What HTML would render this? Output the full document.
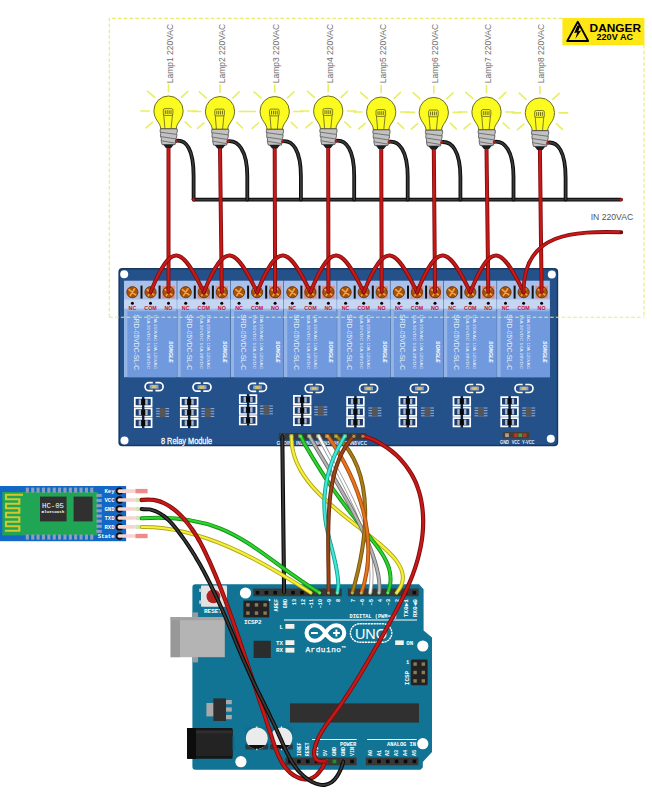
<!DOCTYPE html>
<html lang="en"><head><meta charset="utf-8"><title>8 Relay Bluetooth Wiring</title>
<style>html,body{margin:0;padding:0;background:#fff}body{width:652px;height:800px;overflow:hidden}svg{display:block}text{font-family:"Liberation Sans","DejaVu Sans",sans-serif}.m{font-family:"Liberation Mono","DejaVu Sans Mono",monospace;font-weight:bold;fill:#fff}</style></head><body>
<svg width="652" height="800" viewBox="0 0 652 800">
<rect width="652" height="800" fill="#fff"/>
<g id="dashbox" fill="none" stroke="#eaea72" stroke-width="1.1" stroke-dasharray="3.6 2.2">
<path d="M109.3 317.2 V18.4 H563"/>
<path d="M644 45 V317"/>
</g>
<g id="relayboard">
<rect x="118.4" y="268" width="439.8" height="178.2" rx="4" fill="#183861"/>
<rect x="119.9" y="269.5" width="436.8" height="175.2" rx="3" fill="#24518a"/>
<circle cx="124.2" cy="274.3" r="4" fill="#fff"/>
<circle cx="551.8" cy="274.6" r="4" fill="#fff"/>
<circle cx="124.5" cy="440.6" r="4" fill="#fff"/>
<circle cx="550.8" cy="438.8" r="4" fill="#fff"/>
<rect x="124.0" y="280.7" width="52.7" height="28.5" fill="#a9c1ea"/>
<rect x="124.0" y="299.5" width="52.7" height="9.7" fill="#c5d6f2"/>
<rect x="162.3" y="286" width="12.4" height="12.4" fill="#d98b86"/>
<rect x="140.5" y="285.6" width="2" height="13" fill="#111"/>
<rect x="158.6" y="285.6" width="2" height="13" fill="#111"/>
<circle cx="132.4" cy="292.2" r="5.6" fill="#a4520e" stroke="#6f3506" stroke-width="0.9"/>
<path d="M129.1 289.6 L135.7 294.8 M130.2 295.6 L134.6 288.8" stroke="#f5a43c" stroke-width="1.6" stroke-linecap="round"/>
<circle cx="132.4" cy="303.3" r="1.5" fill="#000"/>
<circle cx="150.5" cy="292.2" r="5.6" fill="#a4520e" stroke="#6f3506" stroke-width="0.9"/>
<path d="M147.2 289.6 L153.8 294.8 M148.3 295.6 L152.7 288.8" stroke="#f5a43c" stroke-width="1.6" stroke-linecap="round"/>
<circle cx="150.5" cy="303.3" r="1.5" fill="#000"/>
<circle cx="168.5" cy="292.2" r="5.6" fill="#a4520e" stroke="#6f3506" stroke-width="0.9"/>
<path d="M165.2 289.6 L171.8 294.8 M166.3 295.6 L170.7 288.8" stroke="#f5a43c" stroke-width="1.6" stroke-linecap="round"/>
<circle cx="168.5" cy="303.3" r="1.5" fill="#000"/>
<rect x="177.3" y="280.7" width="52.7" height="28.5" fill="#a9c1ea"/>
<rect x="177.3" y="299.5" width="52.7" height="9.7" fill="#c5d6f2"/>
<rect x="197.6" y="286" width="12.4" height="12.4" fill="#d98b86"/>
<rect x="215.6" y="286" width="12.4" height="12.4" fill="#d98b86"/>
<rect x="193.8" y="285.6" width="2" height="13" fill="#111"/>
<rect x="211.9" y="285.6" width="2" height="13" fill="#111"/>
<circle cx="185.7" cy="292.2" r="5.6" fill="#a4520e" stroke="#6f3506" stroke-width="0.9"/>
<path d="M182.4 289.6 L189.0 294.8 M183.5 295.6 L187.9 288.8" stroke="#f5a43c" stroke-width="1.6" stroke-linecap="round"/>
<circle cx="185.7" cy="303.3" r="1.5" fill="#000"/>
<circle cx="203.8" cy="292.2" r="5.6" fill="#a4520e" stroke="#6f3506" stroke-width="0.9"/>
<path d="M200.5 289.6 L207.1 294.8 M201.6 295.6 L206.0 288.8" stroke="#f5a43c" stroke-width="1.6" stroke-linecap="round"/>
<circle cx="203.8" cy="303.3" r="1.5" fill="#000"/>
<circle cx="221.8" cy="292.2" r="5.6" fill="#a4520e" stroke="#6f3506" stroke-width="0.9"/>
<path d="M218.5 289.6 L225.1 294.8 M219.6 295.6 L224.0 288.8" stroke="#f5a43c" stroke-width="1.6" stroke-linecap="round"/>
<circle cx="221.8" cy="303.3" r="1.5" fill="#000"/>
<rect x="230.6" y="280.7" width="52.7" height="28.5" fill="#a9c1ea"/>
<rect x="230.6" y="299.5" width="52.7" height="9.7" fill="#c5d6f2"/>
<rect x="268.9" y="286" width="12.4" height="12.4" fill="#d98b86"/>
<rect x="247.1" y="285.6" width="2" height="13" fill="#111"/>
<rect x="265.2" y="285.6" width="2" height="13" fill="#111"/>
<circle cx="239.0" cy="292.2" r="5.6" fill="#a4520e" stroke="#6f3506" stroke-width="0.9"/>
<path d="M235.7 289.6 L242.3 294.8 M236.8 295.6 L241.2 288.8" stroke="#f5a43c" stroke-width="1.6" stroke-linecap="round"/>
<circle cx="239.0" cy="303.3" r="1.5" fill="#000"/>
<circle cx="257.1" cy="292.2" r="5.6" fill="#a4520e" stroke="#6f3506" stroke-width="0.9"/>
<path d="M253.8 289.6 L260.4 294.8 M254.9 295.6 L259.3 288.8" stroke="#f5a43c" stroke-width="1.6" stroke-linecap="round"/>
<circle cx="257.1" cy="303.3" r="1.5" fill="#000"/>
<circle cx="275.1" cy="292.2" r="5.6" fill="#a4520e" stroke="#6f3506" stroke-width="0.9"/>
<path d="M271.8 289.6 L278.4 294.8 M272.9 295.6 L277.3 288.8" stroke="#f5a43c" stroke-width="1.6" stroke-linecap="round"/>
<circle cx="275.1" cy="303.3" r="1.5" fill="#000"/>
<rect x="283.9" y="280.7" width="52.7" height="28.5" fill="#a9c1ea"/>
<rect x="283.9" y="299.5" width="52.7" height="9.7" fill="#c5d6f2"/>
<rect x="304.2" y="286" width="12.4" height="12.4" fill="#d98b86"/>
<rect x="322.2" y="286" width="12.4" height="12.4" fill="#d98b86"/>
<rect x="300.4" y="285.6" width="2" height="13" fill="#111"/>
<rect x="318.5" y="285.6" width="2" height="13" fill="#111"/>
<circle cx="292.3" cy="292.2" r="5.6" fill="#a4520e" stroke="#6f3506" stroke-width="0.9"/>
<path d="M289.0 289.6 L295.6 294.8 M290.1 295.6 L294.5 288.8" stroke="#f5a43c" stroke-width="1.6" stroke-linecap="round"/>
<circle cx="292.3" cy="303.3" r="1.5" fill="#000"/>
<circle cx="310.4" cy="292.2" r="5.6" fill="#a4520e" stroke="#6f3506" stroke-width="0.9"/>
<path d="M307.1 289.6 L313.7 294.8 M308.2 295.6 L312.6 288.8" stroke="#f5a43c" stroke-width="1.6" stroke-linecap="round"/>
<circle cx="310.4" cy="303.3" r="1.5" fill="#000"/>
<circle cx="328.4" cy="292.2" r="5.6" fill="#a4520e" stroke="#6f3506" stroke-width="0.9"/>
<path d="M325.1 289.6 L331.7 294.8 M326.2 295.6 L330.6 288.8" stroke="#f5a43c" stroke-width="1.6" stroke-linecap="round"/>
<circle cx="328.4" cy="303.3" r="1.5" fill="#000"/>
<rect x="337.2" y="280.7" width="52.7" height="28.5" fill="#a9c1ea"/>
<rect x="337.2" y="299.5" width="52.7" height="9.7" fill="#c5d6f2"/>
<rect x="375.5" y="286" width="12.4" height="12.4" fill="#d98b86"/>
<rect x="353.7" y="285.6" width="2" height="13" fill="#111"/>
<rect x="371.8" y="285.6" width="2" height="13" fill="#111"/>
<circle cx="345.6" cy="292.2" r="5.6" fill="#a4520e" stroke="#6f3506" stroke-width="0.9"/>
<path d="M342.3 289.6 L348.9 294.8 M343.4 295.6 L347.8 288.8" stroke="#f5a43c" stroke-width="1.6" stroke-linecap="round"/>
<circle cx="345.6" cy="303.3" r="1.5" fill="#000"/>
<circle cx="363.7" cy="292.2" r="5.6" fill="#a4520e" stroke="#6f3506" stroke-width="0.9"/>
<path d="M360.4 289.6 L367.0 294.8 M361.5 295.6 L365.9 288.8" stroke="#f5a43c" stroke-width="1.6" stroke-linecap="round"/>
<circle cx="363.7" cy="303.3" r="1.5" fill="#000"/>
<circle cx="381.7" cy="292.2" r="5.6" fill="#a4520e" stroke="#6f3506" stroke-width="0.9"/>
<path d="M378.4 289.6 L385.0 294.8 M379.5 295.6 L383.9 288.8" stroke="#f5a43c" stroke-width="1.6" stroke-linecap="round"/>
<circle cx="381.7" cy="303.3" r="1.5" fill="#000"/>
<rect x="390.5" y="280.7" width="52.7" height="28.5" fill="#a9c1ea"/>
<rect x="390.5" y="299.5" width="52.7" height="9.7" fill="#c5d6f2"/>
<rect x="410.8" y="286" width="12.4" height="12.4" fill="#d98b86"/>
<rect x="428.8" y="286" width="12.4" height="12.4" fill="#d98b86"/>
<rect x="407.0" y="285.6" width="2" height="13" fill="#111"/>
<rect x="425.1" y="285.6" width="2" height="13" fill="#111"/>
<circle cx="398.9" cy="292.2" r="5.6" fill="#a4520e" stroke="#6f3506" stroke-width="0.9"/>
<path d="M395.6 289.6 L402.2 294.8 M396.7 295.6 L401.1 288.8" stroke="#f5a43c" stroke-width="1.6" stroke-linecap="round"/>
<circle cx="398.9" cy="303.3" r="1.5" fill="#000"/>
<circle cx="417.0" cy="292.2" r="5.6" fill="#a4520e" stroke="#6f3506" stroke-width="0.9"/>
<path d="M413.7 289.6 L420.3 294.8 M414.8 295.6 L419.2 288.8" stroke="#f5a43c" stroke-width="1.6" stroke-linecap="round"/>
<circle cx="417.0" cy="303.3" r="1.5" fill="#000"/>
<circle cx="435.0" cy="292.2" r="5.6" fill="#a4520e" stroke="#6f3506" stroke-width="0.9"/>
<path d="M431.7 289.6 L438.3 294.8 M432.8 295.6 L437.2 288.8" stroke="#f5a43c" stroke-width="1.6" stroke-linecap="round"/>
<circle cx="435.0" cy="303.3" r="1.5" fill="#000"/>
<rect x="443.8" y="280.7" width="52.7" height="28.5" fill="#a9c1ea"/>
<rect x="443.8" y="299.5" width="52.7" height="9.7" fill="#c5d6f2"/>
<rect x="482.1" y="286" width="12.4" height="12.4" fill="#d98b86"/>
<rect x="460.3" y="285.6" width="2" height="13" fill="#111"/>
<rect x="478.4" y="285.6" width="2" height="13" fill="#111"/>
<circle cx="452.2" cy="292.2" r="5.6" fill="#a4520e" stroke="#6f3506" stroke-width="0.9"/>
<path d="M448.9 289.6 L455.5 294.8 M450.0 295.6 L454.4 288.8" stroke="#f5a43c" stroke-width="1.6" stroke-linecap="round"/>
<circle cx="452.2" cy="303.3" r="1.5" fill="#000"/>
<circle cx="470.3" cy="292.2" r="5.6" fill="#a4520e" stroke="#6f3506" stroke-width="0.9"/>
<path d="M467.0 289.6 L473.6 294.8 M468.1 295.6 L472.5 288.8" stroke="#f5a43c" stroke-width="1.6" stroke-linecap="round"/>
<circle cx="470.3" cy="303.3" r="1.5" fill="#000"/>
<circle cx="488.3" cy="292.2" r="5.6" fill="#a4520e" stroke="#6f3506" stroke-width="0.9"/>
<path d="M485.0 289.6 L491.6 294.8 M486.1 295.6 L490.5 288.8" stroke="#f5a43c" stroke-width="1.6" stroke-linecap="round"/>
<circle cx="488.3" cy="303.3" r="1.5" fill="#000"/>
<rect x="497.1" y="280.7" width="52.7" height="28.5" fill="#a9c1ea"/>
<rect x="497.1" y="299.5" width="52.7" height="9.7" fill="#c5d6f2"/>
<rect x="535.4" y="286" width="12.4" height="12.4" fill="#d98b86"/>
<rect x="513.6" y="285.6" width="2" height="13" fill="#111"/>
<rect x="531.7" y="285.6" width="2" height="13" fill="#111"/>
<circle cx="505.5" cy="292.2" r="5.6" fill="#a4520e" stroke="#6f3506" stroke-width="0.9"/>
<path d="M502.2 289.6 L508.8 294.8 M503.3 295.6 L507.7 288.8" stroke="#f5a43c" stroke-width="1.6" stroke-linecap="round"/>
<circle cx="505.5" cy="303.3" r="1.5" fill="#000"/>
<circle cx="523.6" cy="292.2" r="5.6" fill="#a4520e" stroke="#6f3506" stroke-width="0.9"/>
<path d="M520.3 289.6 L526.9 294.8 M521.4 295.6 L525.8 288.8" stroke="#f5a43c" stroke-width="1.6" stroke-linecap="round"/>
<circle cx="523.6" cy="303.3" r="1.5" fill="#000"/>
<circle cx="541.6" cy="292.2" r="5.6" fill="#a4520e" stroke="#6f3506" stroke-width="0.9"/>
<path d="M538.3 289.6 L544.9 294.8 M539.4 295.6 L543.8 288.8" stroke="#f5a43c" stroke-width="1.6" stroke-linecap="round"/>
<circle cx="541.6" cy="303.3" r="1.5" fill="#000"/>
<rect x="124.0" y="308.6" width="52.7" height="68.6" fill="#9dbbec" opacity="0.93"/>
<rect x="127.4" y="311.2" width="49.3" height="66" fill="#6e99dc" opacity="0.95"/>
<text x="132.4" y="309.7" font-size="5.3" font-weight="bold" text-anchor="middle" fill="#c41236">NC</text>
<text x="150.5" y="309.7" font-size="5.3" font-weight="bold" text-anchor="middle" fill="#c41236">COM</text>
<text x="168.5" y="309.7" font-size="5.3" font-weight="bold" text-anchor="middle" fill="#c41236">NO</text>
<text transform="translate(133.9 314.2) rotate(90)" font-size="6.4" fill="#fff" fill-opacity="0.85" textLength="56" lengthAdjust="spacingAndGlyphs">SRD-05VDC-SL-C</text>
<text transform="translate(153.6 314.6) rotate(90)" font-size="4.3" fill="#fff" fill-opacity="0.9" textLength="54.5" lengthAdjust="spacingAndGlyphs">10A 250VAC 10A 125VAC</text>
<text transform="translate(146.6 314.6) rotate(90)" font-size="4.3" fill="#fff" fill-opacity="0.9" textLength="54.5" lengthAdjust="spacingAndGlyphs">10A 30VDC 10A 28VDC</text>
<text transform="translate(169.4 341) rotate(90)" font-size="5" font-weight="bold" font-style="italic" fill="#fff" textLength="21.6" lengthAdjust="spacingAndGlyphs">SONGLE</text>
<rect x="177.3" y="308.6" width="52.7" height="68.6" fill="#9dbbec" opacity="0.93"/>
<rect x="180.7" y="311.2" width="49.3" height="66" fill="#6e99dc" opacity="0.95"/>
<text x="185.7" y="309.7" font-size="5.3" font-weight="bold" text-anchor="middle" fill="#c41236">NC</text>
<text x="203.8" y="309.7" font-size="5.3" font-weight="bold" text-anchor="middle" fill="#c41236">COM</text>
<text x="221.8" y="309.7" font-size="5.3" font-weight="bold" text-anchor="middle" fill="#c41236">NO</text>
<text transform="translate(187.2 314.2) rotate(90)" font-size="6.4" fill="#fff" fill-opacity="0.85" textLength="56" lengthAdjust="spacingAndGlyphs">SRD-05VDC-SL-C</text>
<text transform="translate(206.9 314.6) rotate(90)" font-size="4.3" fill="#fff" fill-opacity="0.9" textLength="54.5" lengthAdjust="spacingAndGlyphs">10A 250VAC 10A 125VAC</text>
<text transform="translate(199.9 314.6) rotate(90)" font-size="4.3" fill="#fff" fill-opacity="0.9" textLength="54.5" lengthAdjust="spacingAndGlyphs">10A 30VDC 10A 28VDC</text>
<text transform="translate(222.7 341) rotate(90)" font-size="5" font-weight="bold" font-style="italic" fill="#fff" textLength="21.6" lengthAdjust="spacingAndGlyphs">SONGLE</text>
<rect x="230.6" y="308.6" width="52.7" height="68.6" fill="#9dbbec" opacity="0.93"/>
<rect x="234.0" y="311.2" width="49.3" height="66" fill="#6e99dc" opacity="0.95"/>
<text x="239.0" y="309.7" font-size="5.3" font-weight="bold" text-anchor="middle" fill="#c41236">NC</text>
<text x="257.1" y="309.7" font-size="5.3" font-weight="bold" text-anchor="middle" fill="#c41236">COM</text>
<text x="275.1" y="309.7" font-size="5.3" font-weight="bold" text-anchor="middle" fill="#c41236">NO</text>
<text transform="translate(240.5 314.2) rotate(90)" font-size="6.4" fill="#fff" fill-opacity="0.85" textLength="56" lengthAdjust="spacingAndGlyphs">SRD-05VDC-SL-C</text>
<text transform="translate(260.2 314.6) rotate(90)" font-size="4.3" fill="#fff" fill-opacity="0.9" textLength="54.5" lengthAdjust="spacingAndGlyphs">10A 250VAC 10A 125VAC</text>
<text transform="translate(253.2 314.6) rotate(90)" font-size="4.3" fill="#fff" fill-opacity="0.9" textLength="54.5" lengthAdjust="spacingAndGlyphs">10A 30VDC 10A 28VDC</text>
<text transform="translate(276.0 341) rotate(90)" font-size="5" font-weight="bold" font-style="italic" fill="#fff" textLength="21.6" lengthAdjust="spacingAndGlyphs">SONGLE</text>
<rect x="283.9" y="308.6" width="52.7" height="68.6" fill="#9dbbec" opacity="0.93"/>
<rect x="287.3" y="311.2" width="49.3" height="66" fill="#6e99dc" opacity="0.95"/>
<text x="292.3" y="309.7" font-size="5.3" font-weight="bold" text-anchor="middle" fill="#c41236">NC</text>
<text x="310.4" y="309.7" font-size="5.3" font-weight="bold" text-anchor="middle" fill="#c41236">COM</text>
<text x="328.4" y="309.7" font-size="5.3" font-weight="bold" text-anchor="middle" fill="#c41236">NO</text>
<text transform="translate(293.8 314.2) rotate(90)" font-size="6.4" fill="#fff" fill-opacity="0.85" textLength="56" lengthAdjust="spacingAndGlyphs">SRD-05VDC-SL-C</text>
<text transform="translate(313.5 314.6) rotate(90)" font-size="4.3" fill="#fff" fill-opacity="0.9" textLength="54.5" lengthAdjust="spacingAndGlyphs">10A 250VAC 10A 125VAC</text>
<text transform="translate(306.5 314.6) rotate(90)" font-size="4.3" fill="#fff" fill-opacity="0.9" textLength="54.5" lengthAdjust="spacingAndGlyphs">10A 30VDC 10A 28VDC</text>
<text transform="translate(329.3 341) rotate(90)" font-size="5" font-weight="bold" font-style="italic" fill="#fff" textLength="21.6" lengthAdjust="spacingAndGlyphs">SONGLE</text>
<rect x="337.2" y="308.6" width="52.7" height="68.6" fill="#9dbbec" opacity="0.93"/>
<rect x="340.6" y="311.2" width="49.3" height="66" fill="#6e99dc" opacity="0.95"/>
<text x="345.6" y="309.7" font-size="5.3" font-weight="bold" text-anchor="middle" fill="#c41236">NC</text>
<text x="363.7" y="309.7" font-size="5.3" font-weight="bold" text-anchor="middle" fill="#c41236">COM</text>
<text x="381.7" y="309.7" font-size="5.3" font-weight="bold" text-anchor="middle" fill="#c41236">NO</text>
<text transform="translate(347.1 314.2) rotate(90)" font-size="6.4" fill="#fff" fill-opacity="0.85" textLength="56" lengthAdjust="spacingAndGlyphs">SRD-05VDC-SL-C</text>
<text transform="translate(366.8 314.6) rotate(90)" font-size="4.3" fill="#fff" fill-opacity="0.9" textLength="54.5" lengthAdjust="spacingAndGlyphs">10A 250VAC 10A 125VAC</text>
<text transform="translate(359.8 314.6) rotate(90)" font-size="4.3" fill="#fff" fill-opacity="0.9" textLength="54.5" lengthAdjust="spacingAndGlyphs">10A 30VDC 10A 28VDC</text>
<text transform="translate(382.6 341) rotate(90)" font-size="5" font-weight="bold" font-style="italic" fill="#fff" textLength="21.6" lengthAdjust="spacingAndGlyphs">SONGLE</text>
<rect x="390.5" y="308.6" width="52.7" height="68.6" fill="#9dbbec" opacity="0.93"/>
<rect x="393.9" y="311.2" width="49.3" height="66" fill="#6e99dc" opacity="0.95"/>
<text x="398.9" y="309.7" font-size="5.3" font-weight="bold" text-anchor="middle" fill="#c41236">NC</text>
<text x="417.0" y="309.7" font-size="5.3" font-weight="bold" text-anchor="middle" fill="#c41236">COM</text>
<text x="435.0" y="309.7" font-size="5.3" font-weight="bold" text-anchor="middle" fill="#c41236">NO</text>
<text transform="translate(400.4 314.2) rotate(90)" font-size="6.4" fill="#fff" fill-opacity="0.85" textLength="56" lengthAdjust="spacingAndGlyphs">SRD-05VDC-SL-C</text>
<text transform="translate(420.1 314.6) rotate(90)" font-size="4.3" fill="#fff" fill-opacity="0.9" textLength="54.5" lengthAdjust="spacingAndGlyphs">10A 250VAC 10A 125VAC</text>
<text transform="translate(413.1 314.6) rotate(90)" font-size="4.3" fill="#fff" fill-opacity="0.9" textLength="54.5" lengthAdjust="spacingAndGlyphs">10A 30VDC 10A 28VDC</text>
<text transform="translate(435.9 341) rotate(90)" font-size="5" font-weight="bold" font-style="italic" fill="#fff" textLength="21.6" lengthAdjust="spacingAndGlyphs">SONGLE</text>
<rect x="443.8" y="308.6" width="52.7" height="68.6" fill="#9dbbec" opacity="0.93"/>
<rect x="447.2" y="311.2" width="49.3" height="66" fill="#6e99dc" opacity="0.95"/>
<text x="452.2" y="309.7" font-size="5.3" font-weight="bold" text-anchor="middle" fill="#c41236">NC</text>
<text x="470.3" y="309.7" font-size="5.3" font-weight="bold" text-anchor="middle" fill="#c41236">COM</text>
<text x="488.3" y="309.7" font-size="5.3" font-weight="bold" text-anchor="middle" fill="#c41236">NO</text>
<text transform="translate(453.7 314.2) rotate(90)" font-size="6.4" fill="#fff" fill-opacity="0.85" textLength="56" lengthAdjust="spacingAndGlyphs">SRD-05VDC-SL-C</text>
<text transform="translate(473.4 314.6) rotate(90)" font-size="4.3" fill="#fff" fill-opacity="0.9" textLength="54.5" lengthAdjust="spacingAndGlyphs">10A 250VAC 10A 125VAC</text>
<text transform="translate(466.4 314.6) rotate(90)" font-size="4.3" fill="#fff" fill-opacity="0.9" textLength="54.5" lengthAdjust="spacingAndGlyphs">10A 30VDC 10A 28VDC</text>
<text transform="translate(489.2 341) rotate(90)" font-size="5" font-weight="bold" font-style="italic" fill="#fff" textLength="21.6" lengthAdjust="spacingAndGlyphs">SONGLE</text>
<rect x="497.1" y="308.6" width="52.7" height="68.6" fill="#9dbbec" opacity="0.93"/>
<rect x="500.5" y="311.2" width="49.3" height="66" fill="#6e99dc" opacity="0.95"/>
<text x="505.5" y="309.7" font-size="5.3" font-weight="bold" text-anchor="middle" fill="#c41236">NC</text>
<text x="523.6" y="309.7" font-size="5.3" font-weight="bold" text-anchor="middle" fill="#c41236">COM</text>
<text x="541.6" y="309.7" font-size="5.3" font-weight="bold" text-anchor="middle" fill="#c41236">NO</text>
<text transform="translate(507.0 314.2) rotate(90)" font-size="6.4" fill="#fff" fill-opacity="0.85" textLength="56" lengthAdjust="spacingAndGlyphs">SRD-05VDC-SL-C</text>
<text transform="translate(526.7 314.6) rotate(90)" font-size="4.3" fill="#fff" fill-opacity="0.9" textLength="54.5" lengthAdjust="spacingAndGlyphs">10A 250VAC 10A 125VAC</text>
<text transform="translate(519.7 314.6) rotate(90)" font-size="4.3" fill="#fff" fill-opacity="0.9" textLength="54.5" lengthAdjust="spacingAndGlyphs">10A 30VDC 10A 28VDC</text>
<text transform="translate(542.5 341) rotate(90)" font-size="5" font-weight="bold" font-style="italic" fill="#fff" textLength="21.6" lengthAdjust="spacingAndGlyphs">SONGLE</text>
<rect x="149.7" y="384.8" width="8.8" height="3.8" fill="#93a2bc"/>
<rect x="151.8" y="385.1" width="4.6" height="3.2" fill="#d5c068"/>
<path d="M152.8 382.7 H149.1 A4 4 0 0 0 149.1 390.7 H152.8 M155.4 382.7 H159.1 A4 4 0 0 1 159.1 390.7 H155.4" fill="none" stroke="#fff" stroke-width="1.7"/>
<rect x="197.6" y="385.3" width="8.8" height="3.8" fill="#93a2bc"/>
<rect x="199.7" y="385.6" width="4.6" height="3.2" fill="#d5c068"/>
<path d="M200.7 383.2 H197.0 A4 4 0 0 0 197.0 391.2 H200.7 M203.3 383.2 H207.0 A4 4 0 0 1 207.0 391.2 H203.3" fill="none" stroke="#fff" stroke-width="1.7"/>
<rect x="253.1" y="385.5" width="8.8" height="3.8" fill="#93a2bc"/>
<rect x="255.2" y="385.8" width="4.6" height="3.2" fill="#d5c068"/>
<path d="M256.2 383.4 H252.5 A4 4 0 0 0 252.5 391.4 H256.2 M258.8 383.4 H262.5 A4 4 0 0 1 262.5 391.4 H258.8" fill="none" stroke="#fff" stroke-width="1.7"/>
<rect x="309.8" y="386.6" width="8.8" height="3.8" fill="#93a2bc"/>
<rect x="311.9" y="386.9" width="4.6" height="3.2" fill="#d5c068"/>
<path d="M312.9 384.5 H309.2 A4 4 0 0 0 309.2 392.5 H312.9 M315.5 384.5 H319.2 A4 4 0 0 1 319.2 392.5 H315.5" fill="none" stroke="#fff" stroke-width="1.7"/>
<rect x="364.2" y="386.6" width="8.8" height="3.8" fill="#93a2bc"/>
<rect x="366.3" y="386.9" width="4.6" height="3.2" fill="#d5c068"/>
<path d="M367.3 384.5 H363.6 A4 4 0 0 0 363.6 392.5 H367.3 M369.9 384.5 H373.6 A4 4 0 0 1 373.6 392.5 H369.9" fill="none" stroke="#fff" stroke-width="1.7"/>
<rect x="415.0" y="386.6" width="8.8" height="3.8" fill="#93a2bc"/>
<rect x="417.1" y="386.9" width="4.6" height="3.2" fill="#d5c068"/>
<path d="M418.1 384.5 H414.4 A4 4 0 0 0 414.4 392.5 H418.1 M420.7 384.5 H424.4 A4 4 0 0 1 424.4 392.5 H420.7" fill="none" stroke="#fff" stroke-width="1.7"/>
<rect x="470.2" y="386.6" width="8.8" height="3.8" fill="#93a2bc"/>
<rect x="472.3" y="386.9" width="4.6" height="3.2" fill="#d5c068"/>
<path d="M473.3 384.5 H469.6 A4 4 0 0 0 469.6 392.5 H473.3 M475.9 384.5 H479.6 A4 4 0 0 1 479.6 392.5 H475.9" fill="none" stroke="#fff" stroke-width="1.7"/>
<rect x="519.6" y="386.6" width="8.8" height="3.8" fill="#93a2bc"/>
<rect x="521.7" y="386.9" width="4.6" height="3.2" fill="#d5c068"/>
<path d="M522.7 384.5 H519.0 A4 4 0 0 0 519.0 392.5 H522.7 M525.3 384.5 H529.0 A4 4 0 0 1 529.0 392.5 H525.3" fill="none" stroke="#fff" stroke-width="1.7"/>
<rect x="142.1" y="397.0" width="2.3" height="31" fill="#0d1a30"/>
<rect x="135.7" y="398.7" width="15" height="6.6" fill="#1b3c6e"/>
<rect x="138.7" y="399.4" width="2.6" height="5.2" fill="#a9b6cc"/>
<rect x="145.1" y="399.4" width="2.6" height="5.2" fill="#a9b6cc"/>
<rect x="141.2" y="399.0" width="4" height="6" fill="#080808"/>
<path d="M141.9 397.9 H134.8 V406.1 H141.9 M144.5 397.9 H151.6 V406.1 H144.5" fill="none" stroke="#fff" stroke-width="1.7"/>
<rect x="135.7" y="409.2" width="15" height="6.6" fill="#1b3c6e"/>
<rect x="138.7" y="409.9" width="2.6" height="5.2" fill="#a9b6cc"/>
<rect x="145.1" y="409.9" width="2.6" height="5.2" fill="#a9b6cc"/>
<rect x="141.2" y="409.5" width="4" height="6" fill="#080808"/>
<path d="M141.9 408.4 H134.8 V416.6 H141.9 M144.5 408.4 H151.6 V416.6 H144.5" fill="none" stroke="#fff" stroke-width="1.7"/>
<rect x="135.7" y="419.7" width="15" height="6.6" fill="#1b3c6e"/>
<rect x="138.7" y="420.4" width="2.6" height="5.2" fill="#a9b6cc"/>
<rect x="145.1" y="420.4" width="2.6" height="5.2" fill="#a9b6cc"/>
<rect x="141.2" y="420.0" width="4" height="6" fill="#080808"/>
<path d="M141.9 418.9 H134.8 V427.1 H141.9 M144.5 418.9 H151.6 V427.1 H144.5" fill="none" stroke="#fff" stroke-width="1.7"/>
<rect x="188.1" y="397.0" width="2.3" height="31" fill="#0d1a30"/>
<rect x="181.7" y="398.7" width="15" height="6.6" fill="#1b3c6e"/>
<rect x="184.7" y="399.4" width="2.6" height="5.2" fill="#a9b6cc"/>
<rect x="191.1" y="399.4" width="2.6" height="5.2" fill="#a9b6cc"/>
<rect x="187.2" y="399.0" width="4" height="6" fill="#080808"/>
<path d="M187.9 397.9 H180.8 V406.1 H187.9 M190.5 397.9 H197.6 V406.1 H190.5" fill="none" stroke="#fff" stroke-width="1.7"/>
<rect x="181.7" y="409.2" width="15" height="6.6" fill="#1b3c6e"/>
<rect x="184.7" y="409.9" width="2.6" height="5.2" fill="#a9b6cc"/>
<rect x="191.1" y="409.9" width="2.6" height="5.2" fill="#a9b6cc"/>
<rect x="187.2" y="409.5" width="4" height="6" fill="#080808"/>
<path d="M187.9 408.4 H180.8 V416.6 H187.9 M190.5 408.4 H197.6 V416.6 H190.5" fill="none" stroke="#fff" stroke-width="1.7"/>
<rect x="181.7" y="419.7" width="15" height="6.6" fill="#1b3c6e"/>
<rect x="184.7" y="420.4" width="2.6" height="5.2" fill="#a9b6cc"/>
<rect x="191.1" y="420.4" width="2.6" height="5.2" fill="#a9b6cc"/>
<rect x="187.2" y="420.0" width="4" height="6" fill="#080808"/>
<path d="M187.9 418.9 H180.8 V427.1 H187.9 M190.5 418.9 H197.6 V427.1 H190.5" fill="none" stroke="#fff" stroke-width="1.7"/>
<rect x="247.0" y="394.4" width="2.3" height="31" fill="#0d1a30"/>
<rect x="240.6" y="396.1" width="15" height="6.6" fill="#1b3c6e"/>
<rect x="243.6" y="396.8" width="2.6" height="5.2" fill="#a9b6cc"/>
<rect x="250.0" y="396.8" width="2.6" height="5.2" fill="#a9b6cc"/>
<rect x="246.1" y="396.4" width="4" height="6" fill="#080808"/>
<path d="M246.8 395.2 H239.8 V403.5 H246.8 M249.4 395.2 H256.4 V403.5 H249.4" fill="none" stroke="#fff" stroke-width="1.7"/>
<rect x="240.6" y="406.6" width="15" height="6.6" fill="#1b3c6e"/>
<rect x="243.6" y="407.3" width="2.6" height="5.2" fill="#a9b6cc"/>
<rect x="250.0" y="407.3" width="2.6" height="5.2" fill="#a9b6cc"/>
<rect x="246.1" y="406.9" width="4" height="6" fill="#080808"/>
<path d="M246.8 405.8 H239.8 V414.0 H246.8 M249.4 405.8 H256.4 V414.0 H249.4" fill="none" stroke="#fff" stroke-width="1.7"/>
<rect x="240.6" y="417.1" width="15" height="6.6" fill="#1b3c6e"/>
<rect x="243.6" y="417.8" width="2.6" height="5.2" fill="#a9b6cc"/>
<rect x="250.0" y="417.8" width="2.6" height="5.2" fill="#a9b6cc"/>
<rect x="246.1" y="417.4" width="4" height="6" fill="#080808"/>
<path d="M246.8 416.2 H239.8 V424.5 H246.8 M249.4 416.2 H256.4 V424.5 H249.4" fill="none" stroke="#fff" stroke-width="1.7"/>
<rect x="301.1" y="395.0" width="2.3" height="31" fill="#0d1a30"/>
<rect x="294.7" y="396.7" width="15" height="6.6" fill="#1b3c6e"/>
<rect x="297.7" y="397.4" width="2.6" height="5.2" fill="#a9b6cc"/>
<rect x="304.1" y="397.4" width="2.6" height="5.2" fill="#a9b6cc"/>
<rect x="300.2" y="397.0" width="4" height="6" fill="#080808"/>
<path d="M300.9 395.9 H293.9 V404.1 H300.9 M303.5 395.9 H310.6 V404.1 H303.5" fill="none" stroke="#fff" stroke-width="1.7"/>
<rect x="294.7" y="407.2" width="15" height="6.6" fill="#1b3c6e"/>
<rect x="297.7" y="407.9" width="2.6" height="5.2" fill="#a9b6cc"/>
<rect x="304.1" y="407.9" width="2.6" height="5.2" fill="#a9b6cc"/>
<rect x="300.2" y="407.5" width="4" height="6" fill="#080808"/>
<path d="M300.9 406.4 H293.9 V414.6 H300.9 M303.5 406.4 H310.6 V414.6 H303.5" fill="none" stroke="#fff" stroke-width="1.7"/>
<rect x="294.7" y="417.7" width="15" height="6.6" fill="#1b3c6e"/>
<rect x="297.7" y="418.4" width="2.6" height="5.2" fill="#a9b6cc"/>
<rect x="304.1" y="418.4" width="2.6" height="5.2" fill="#a9b6cc"/>
<rect x="300.2" y="418.0" width="4" height="6" fill="#080808"/>
<path d="M300.9 416.9 H293.9 V425.1 H300.9 M303.5 416.9 H310.6 V425.1 H303.5" fill="none" stroke="#fff" stroke-width="1.7"/>
<rect x="354.2" y="396.3" width="2.3" height="31" fill="#0d1a30"/>
<rect x="347.9" y="398.0" width="15" height="6.6" fill="#1b3c6e"/>
<rect x="350.9" y="398.7" width="2.6" height="5.2" fill="#a9b6cc"/>
<rect x="357.3" y="398.7" width="2.6" height="5.2" fill="#a9b6cc"/>
<rect x="353.4" y="398.3" width="4" height="6" fill="#080808"/>
<path d="M354.1 397.2 H347.1 V405.4 H354.1 M356.7 397.2 H363.8 V405.4 H356.7" fill="none" stroke="#fff" stroke-width="1.7"/>
<rect x="347.9" y="408.5" width="15" height="6.6" fill="#1b3c6e"/>
<rect x="350.9" y="409.2" width="2.6" height="5.2" fill="#a9b6cc"/>
<rect x="357.3" y="409.2" width="2.6" height="5.2" fill="#a9b6cc"/>
<rect x="353.4" y="408.8" width="4" height="6" fill="#080808"/>
<path d="M354.1 407.7 H347.1 V415.9 H354.1 M356.7 407.7 H363.8 V415.9 H356.7" fill="none" stroke="#fff" stroke-width="1.7"/>
<rect x="347.9" y="419.0" width="15" height="6.6" fill="#1b3c6e"/>
<rect x="350.9" y="419.7" width="2.6" height="5.2" fill="#a9b6cc"/>
<rect x="357.3" y="419.7" width="2.6" height="5.2" fill="#a9b6cc"/>
<rect x="353.4" y="419.3" width="4" height="6" fill="#080808"/>
<path d="M354.1 418.2 H347.1 V426.4 H354.1 M356.7 418.2 H363.8 V426.4 H356.7" fill="none" stroke="#fff" stroke-width="1.7"/>
<rect x="406.7" y="396.3" width="2.3" height="31" fill="#0d1a30"/>
<rect x="400.3" y="398.0" width="15" height="6.6" fill="#1b3c6e"/>
<rect x="403.3" y="398.7" width="2.6" height="5.2" fill="#a9b6cc"/>
<rect x="409.7" y="398.7" width="2.6" height="5.2" fill="#a9b6cc"/>
<rect x="405.8" y="398.3" width="4" height="6" fill="#080808"/>
<path d="M406.5 397.2 H399.5 V405.4 H406.5 M409.1 397.2 H416.2 V405.4 H409.1" fill="none" stroke="#fff" stroke-width="1.7"/>
<rect x="400.3" y="408.5" width="15" height="6.6" fill="#1b3c6e"/>
<rect x="403.3" y="409.2" width="2.6" height="5.2" fill="#a9b6cc"/>
<rect x="409.7" y="409.2" width="2.6" height="5.2" fill="#a9b6cc"/>
<rect x="405.8" y="408.8" width="4" height="6" fill="#080808"/>
<path d="M406.5 407.7 H399.5 V415.9 H406.5 M409.1 407.7 H416.2 V415.9 H409.1" fill="none" stroke="#fff" stroke-width="1.7"/>
<rect x="400.3" y="419.0" width="15" height="6.6" fill="#1b3c6e"/>
<rect x="403.3" y="419.7" width="2.6" height="5.2" fill="#a9b6cc"/>
<rect x="409.7" y="419.7" width="2.6" height="5.2" fill="#a9b6cc"/>
<rect x="405.8" y="419.3" width="4" height="6" fill="#080808"/>
<path d="M406.5 418.2 H399.5 V426.4 H406.5 M409.1 418.2 H416.2 V426.4 H409.1" fill="none" stroke="#fff" stroke-width="1.7"/>
<rect x="460.7" y="396.3" width="2.3" height="31" fill="#0d1a30"/>
<rect x="454.3" y="398.0" width="15" height="6.6" fill="#1b3c6e"/>
<rect x="457.3" y="398.7" width="2.6" height="5.2" fill="#a9b6cc"/>
<rect x="463.7" y="398.7" width="2.6" height="5.2" fill="#a9b6cc"/>
<rect x="459.8" y="398.3" width="4" height="6" fill="#080808"/>
<path d="M460.5 397.2 H453.5 V405.4 H460.5 M463.1 397.2 H470.2 V405.4 H463.1" fill="none" stroke="#fff" stroke-width="1.7"/>
<rect x="454.3" y="408.5" width="15" height="6.6" fill="#1b3c6e"/>
<rect x="457.3" y="409.2" width="2.6" height="5.2" fill="#a9b6cc"/>
<rect x="463.7" y="409.2" width="2.6" height="5.2" fill="#a9b6cc"/>
<rect x="459.8" y="408.8" width="4" height="6" fill="#080808"/>
<path d="M460.5 407.7 H453.5 V415.9 H460.5 M463.1 407.7 H470.2 V415.9 H463.1" fill="none" stroke="#fff" stroke-width="1.7"/>
<rect x="454.3" y="419.0" width="15" height="6.6" fill="#1b3c6e"/>
<rect x="457.3" y="419.7" width="2.6" height="5.2" fill="#a9b6cc"/>
<rect x="463.7" y="419.7" width="2.6" height="5.2" fill="#a9b6cc"/>
<rect x="459.8" y="419.3" width="4" height="6" fill="#080808"/>
<path d="M460.5 418.2 H453.5 V426.4 H460.5 M463.1 418.2 H470.2 V426.4 H463.1" fill="none" stroke="#fff" stroke-width="1.7"/>
<rect x="508.4" y="396.3" width="2.3" height="31" fill="#0d1a30"/>
<rect x="502.1" y="398.0" width="15" height="6.6" fill="#1b3c6e"/>
<rect x="505.1" y="398.7" width="2.6" height="5.2" fill="#a9b6cc"/>
<rect x="511.5" y="398.7" width="2.6" height="5.2" fill="#a9b6cc"/>
<rect x="507.6" y="398.3" width="4" height="6" fill="#080808"/>
<path d="M508.3 397.2 H501.2 V405.4 H508.3 M510.9 397.2 H517.9 V405.4 H510.9" fill="none" stroke="#fff" stroke-width="1.7"/>
<rect x="502.1" y="408.5" width="15" height="6.6" fill="#1b3c6e"/>
<rect x="505.1" y="409.2" width="2.6" height="5.2" fill="#a9b6cc"/>
<rect x="511.5" y="409.2" width="2.6" height="5.2" fill="#a9b6cc"/>
<rect x="507.6" y="408.8" width="4" height="6" fill="#080808"/>
<path d="M508.3 407.7 H501.2 V415.9 H508.3 M510.9 407.7 H517.9 V415.9 H510.9" fill="none" stroke="#fff" stroke-width="1.7"/>
<rect x="502.1" y="419.0" width="15" height="6.6" fill="#1b3c6e"/>
<rect x="505.1" y="419.7" width="2.6" height="5.2" fill="#a9b6cc"/>
<rect x="511.5" y="419.7" width="2.6" height="5.2" fill="#a9b6cc"/>
<rect x="507.6" y="419.3" width="4" height="6" fill="#080808"/>
<path d="M508.3 418.2 H501.2 V426.4 H508.3 M510.9 418.2 H517.9 V426.4 H510.9" fill="none" stroke="#fff" stroke-width="1.7"/>
<rect x="156.1" y="408.1" width="13" height="1" fill="#9db2d4"/>
<rect x="156.1" y="410.7" width="13" height="1" fill="#9db2d4"/>
<rect x="156.1" y="413.3" width="13" height="1" fill="#9db2d4"/>
<rect x="156.1" y="415.9" width="13" height="1" fill="#9db2d4"/>
<rect x="159.7" y="407.8" width="5.8" height="9.2" fill="#565658"/>
<rect x="201.3" y="408.1" width="13" height="1" fill="#9db2d4"/>
<rect x="201.3" y="410.7" width="13" height="1" fill="#9db2d4"/>
<rect x="201.3" y="413.3" width="13" height="1" fill="#9db2d4"/>
<rect x="201.3" y="415.9" width="13" height="1" fill="#9db2d4"/>
<rect x="204.9" y="407.8" width="5.8" height="9.2" fill="#565658"/>
<rect x="259.9" y="405.5" width="13" height="1" fill="#9db2d4"/>
<rect x="259.9" y="408.1" width="13" height="1" fill="#9db2d4"/>
<rect x="259.9" y="410.7" width="13" height="1" fill="#9db2d4"/>
<rect x="259.9" y="413.3" width="13" height="1" fill="#9db2d4"/>
<rect x="263.5" y="405.2" width="5.8" height="9.2" fill="#565658"/>
<rect x="314.3" y="406.5" width="13" height="1" fill="#9db2d4"/>
<rect x="314.3" y="409.1" width="13" height="1" fill="#9db2d4"/>
<rect x="314.3" y="411.7" width="13" height="1" fill="#9db2d4"/>
<rect x="314.3" y="414.3" width="13" height="1" fill="#9db2d4"/>
<rect x="317.9" y="406.2" width="5.8" height="9.2" fill="#565658"/>
<rect x="368.4" y="407.5" width="13" height="1" fill="#9db2d4"/>
<rect x="368.4" y="410.1" width="13" height="1" fill="#9db2d4"/>
<rect x="368.4" y="412.7" width="13" height="1" fill="#9db2d4"/>
<rect x="368.4" y="415.3" width="13" height="1" fill="#9db2d4"/>
<rect x="372.0" y="407.2" width="5.8" height="9.2" fill="#565658"/>
<rect x="421.0" y="407.5" width="13" height="1" fill="#9db2d4"/>
<rect x="421.0" y="410.1" width="13" height="1" fill="#9db2d4"/>
<rect x="421.0" y="412.7" width="13" height="1" fill="#9db2d4"/>
<rect x="421.0" y="415.3" width="13" height="1" fill="#9db2d4"/>
<rect x="424.6" y="407.2" width="5.8" height="9.2" fill="#565658"/>
<rect x="474.5" y="407.5" width="13" height="1" fill="#9db2d4"/>
<rect x="474.5" y="410.1" width="13" height="1" fill="#9db2d4"/>
<rect x="474.5" y="412.7" width="13" height="1" fill="#9db2d4"/>
<rect x="474.5" y="415.3" width="13" height="1" fill="#9db2d4"/>
<rect x="478.1" y="407.2" width="5.8" height="9.2" fill="#565658"/>
<rect x="522.2" y="407.5" width="13" height="1" fill="#9db2d4"/>
<rect x="522.2" y="410.1" width="13" height="1" fill="#9db2d4"/>
<rect x="522.2" y="412.7" width="13" height="1" fill="#9db2d4"/>
<rect x="522.2" y="415.3" width="13" height="1" fill="#9db2d4"/>
<rect x="525.8" y="407.2" width="5.8" height="9.2" fill="#565658"/>
<text x="160.9" y="443.9" font-size="8.5" fill="#fff" stroke="#fff" stroke-width="0.3" fill-opacity="0.95" textLength="51.3" lengthAdjust="spacingAndGlyphs">8 Relay Module</text>
<rect x="278.9" y="433" width="87.5" height="6.6" fill="#383838"/>
<rect x="280.4" y="434.1" width="3.8" height="3.8" fill="#8c8663"/>
<text x="281.7" y="444.6" font-size="4.7" font-weight="bold" text-anchor="middle" fill="#fff" fill-opacity="0.92">GND</text>
<rect x="289.4" y="434.1" width="3.8" height="3.8" fill="#8c8663"/>
<text x="290.6" y="444.6" font-size="4.7" font-weight="bold" text-anchor="middle" fill="#fff" fill-opacity="0.92">IN1</text>
<rect x="298.3" y="434.1" width="3.8" height="3.8" fill="#8c8663"/>
<text x="299.6" y="444.6" font-size="4.7" font-weight="bold" text-anchor="middle" fill="#fff" fill-opacity="0.92">IN2</text>
<rect x="307.3" y="434.1" width="3.8" height="3.8" fill="#8c8663"/>
<text x="308.6" y="444.6" font-size="4.7" font-weight="bold" text-anchor="middle" fill="#fff" fill-opacity="0.92">IN3</text>
<rect x="316.2" y="434.1" width="3.8" height="3.8" fill="#8c8663"/>
<text x="317.5" y="444.6" font-size="4.7" font-weight="bold" text-anchor="middle" fill="#fff" fill-opacity="0.92">IN4</text>
<rect x="325.2" y="434.1" width="3.8" height="3.8" fill="#8c8663"/>
<text x="326.4" y="444.6" font-size="4.7" font-weight="bold" text-anchor="middle" fill="#fff" fill-opacity="0.92">IN5</text>
<rect x="334.1" y="434.1" width="3.8" height="3.8" fill="#8c8663"/>
<text x="335.4" y="444.6" font-size="4.7" font-weight="bold" text-anchor="middle" fill="#fff" fill-opacity="0.92">IN6</text>
<rect x="343.1" y="434.1" width="3.8" height="3.8" fill="#8c8663"/>
<text x="344.3" y="444.6" font-size="4.7" font-weight="bold" text-anchor="middle" fill="#fff" fill-opacity="0.92">IN7</text>
<rect x="352.0" y="434.1" width="3.8" height="3.8" fill="#8c8663"/>
<text x="353.3" y="444.6" font-size="4.7" font-weight="bold" text-anchor="middle" fill="#fff" fill-opacity="0.92">IN8</text>
<rect x="361.0" y="434.1" width="3.8" height="3.8" fill="#8c8663"/>
<text x="362.2" y="444.6" font-size="4.7" font-weight="bold" text-anchor="middle" fill="#fff" fill-opacity="0.92">VCC</text>
<rect x="502.8" y="432" width="26.4" height="6.4" fill="#453e38"/><rect x="518.4" y="433.4" width="3.6" height="3.6" fill="#4c9a3a"/>
<rect x="505.1" y="433.3" width="3.8" height="3.8" fill="#a8a090"/>
<rect x="513.9" y="433.3" width="3.8" height="3.8" fill="#b23a28"/>
<rect x="522.7" y="433.3" width="3.8" height="3.8" fill="#b23a28"/>
<text x="504.5" y="444" font-size="4.6" textLength="9" lengthAdjust="spacingAndGlyphs" font-weight="bold" text-anchor="middle" fill="#fff" fill-opacity="0.92">GND</text>
<text x="515.8" y="444" font-size="4.6" textLength="8" lengthAdjust="spacingAndGlyphs" font-weight="bold" text-anchor="middle" fill="#fff" fill-opacity="0.92">VCC</text>
<text x="528.3" y="444" font-size="4.6" textLength="12.4" lengthAdjust="spacingAndGlyphs" font-weight="bold" text-anchor="middle" fill="#fff" fill-opacity="0.92">Y-VCC</text>
</g>
<path d="M109.3 317.2 H644" fill="none" stroke="#eaea72" stroke-width="1.1" stroke-dasharray="3.6 2.2"/>
<g id="lamps">
<text transform="translate(173.0 83.2) rotate(-90)" font-size="9" fill="#707070" textLength="59.3" lengthAdjust="spacingAndGlyphs">Lamp1 220VAC</text>
<path transform="translate(0 0)" d="M168.5 84.6 L168.5 91.7 M147.8 91.3 L154.7 97.4 M187.8 91.4 L181.4 97.4 M140.9 111.0 L149.2 111.0 M187.8 111.0 L196.3 111.0 M146.0 127.8 L152.4 122.3 M185.1 121.8 L191.0 127.5" stroke="#e8ef62" stroke-width="1.6" fill="none" stroke-linecap="round"/>
<text transform="translate(224.5 83.2) rotate(-90)" font-size="9" fill="#707070" textLength="59.3" lengthAdjust="spacingAndGlyphs">Lamp2 220VAC</text>
<path transform="translate(0 0.5)" d="M220.0 84.6 L220.0 91.7 M199.3 91.3 L206.2 97.4 M239.3 91.4 L232.9 97.4 M192.4 111.0 L200.7 111.0 M239.3 111.0 L247.8 111.0 M197.5 127.8 L203.9 122.3 M236.6 121.8 L242.5 127.5" stroke="#e8ef62" stroke-width="1.6" fill="none" stroke-linecap="round"/>
<text transform="translate(279.2 83.2) rotate(-90)" font-size="9" fill="#707070" textLength="59.3" lengthAdjust="spacingAndGlyphs">Lamp3 220VAC</text>
<path transform="translate(0 0.5)" d="M274.7 84.6 L274.7 91.7 M254.0 91.3 L260.9 97.4 M294.0 91.4 L287.6 97.4 M247.1 111.0 L255.4 111.0 M294.0 111.0 L302.5 111.0 M252.2 127.8 L258.6 122.3 M291.3 121.8 L297.2 127.5" stroke="#e8ef62" stroke-width="1.6" fill="none" stroke-linecap="round"/>
<text transform="translate(332.7 83.2) rotate(-90)" font-size="9" fill="#707070" textLength="59.3" lengthAdjust="spacingAndGlyphs">Lamp4 220VAC</text>
<path transform="translate(0 0)" d="M328.2 84.6 L328.2 91.7 M307.5 91.3 L314.4 97.4 M347.5 91.4 L341.1 97.4 M300.6 111.0 L308.9 111.0 M347.5 111.0 L356.0 111.0 M305.7 127.8 L312.1 122.3 M344.8 121.8 L350.7 127.5" stroke="#e8ef62" stroke-width="1.6" fill="none" stroke-linecap="round"/>
<text transform="translate(385.7 83.2) rotate(-90)" font-size="9" fill="#707070" textLength="59.3" lengthAdjust="spacingAndGlyphs">Lamp5 220VAC</text>
<path transform="translate(0 1.0)" d="M381.2 84.6 L381.2 91.7 M360.5 91.3 L367.4 97.4 M400.5 91.4 L394.1 97.4 M353.6 111.0 L361.9 111.0 M400.5 111.0 L409.0 111.0 M358.7 127.8 L365.1 122.3 M397.8 121.8 L403.7 127.5" stroke="#e8ef62" stroke-width="1.6" fill="none" stroke-linecap="round"/>
<text transform="translate(438.3 83.2) rotate(-90)" font-size="9" fill="#707070" textLength="59.3" lengthAdjust="spacingAndGlyphs">Lamp6 220VAC</text>
<path transform="translate(0 1.4)" d="M433.8 84.6 L433.8 91.7 M413.1 91.3 L420.0 97.4 M453.1 91.4 L446.7 97.4 M406.2 111.0 L414.5 111.0 M453.1 111.0 L461.6 111.0 M411.3 127.8 L417.7 122.3 M450.4 121.8 L456.3 127.5" stroke="#e8ef62" stroke-width="1.6" fill="none" stroke-linecap="round"/>
<text transform="translate(491.0 83.2) rotate(-90)" font-size="9" fill="#707070" textLength="59.3" lengthAdjust="spacingAndGlyphs">Lamp7 220VAC</text>
<path transform="translate(0 1.0)" d="M486.5 84.6 L486.5 91.7 M465.8 91.3 L472.7 97.4 M505.8 91.4 L499.4 97.4 M458.9 111.0 L467.2 111.0 M505.8 111.0 L514.3 111.0 M464.0 127.8 L470.4 122.3 M503.1 121.8 L509.0 127.5" stroke="#e8ef62" stroke-width="1.6" fill="none" stroke-linecap="round"/>
<text transform="translate(544.4 83.2) rotate(-90)" font-size="9" fill="#707070" textLength="59.3" lengthAdjust="spacingAndGlyphs">Lamp8 220VAC</text>
<path transform="translate(0 1.9)" d="M539.9 84.6 L539.9 91.7 M519.2 91.3 L526.1 97.4 M559.2 91.4 L552.8 97.4 M512.3 111.0 L520.6 111.0 M559.2 111.0 L567.7 111.0 M517.4 127.8 L523.8 122.3 M556.5 121.8 L562.4 127.5" stroke="#e8ef62" stroke-width="1.6" fill="none" stroke-linecap="round"/>
</g>
<g id="acwires">
<path d="M193.6 199.6 H621" fill="none" stroke="#0a0a0a" stroke-width="3.8" stroke-linecap="round"/>
<path d="M193.6 199.6 H621" fill="none" stroke="#3a3a3a" stroke-width="1.8" stroke-linecap="round"/>
<path d="M175.6 140.8 C186.6 139.0 193.6 150.0 193.6 176.0 V199.6" fill="none" stroke="#0a0a0a" stroke-width="3.8" stroke-linecap="round"/>
<path d="M175.6 140.8 C186.6 139.0 193.6 150.0 193.6 176.0 V199.6" fill="none" stroke="#3a3a3a" stroke-width="1.8" stroke-linecap="round"/>
<path d="M227.1 141.3 C238.1 139.5 247.3 150.5 247.3 176.5 V199.6" fill="none" stroke="#0a0a0a" stroke-width="3.8" stroke-linecap="round"/>
<path d="M227.1 141.3 C238.1 139.5 247.3 150.5 247.3 176.5 V199.6" fill="none" stroke="#3a3a3a" stroke-width="1.8" stroke-linecap="round"/>
<path d="M281.8 141.3 C292.8 139.5 300.9 150.5 300.9 176.5 V199.6" fill="none" stroke="#0a0a0a" stroke-width="3.8" stroke-linecap="round"/>
<path d="M281.8 141.3 C292.8 139.5 300.9 150.5 300.9 176.5 V199.6" fill="none" stroke="#3a3a3a" stroke-width="1.8" stroke-linecap="round"/>
<path d="M335.3 140.8 C346.3 139.0 354.2 150.0 354.2 176.0 V199.6" fill="none" stroke="#0a0a0a" stroke-width="3.8" stroke-linecap="round"/>
<path d="M335.3 140.8 C346.3 139.0 354.2 150.0 354.2 176.0 V199.6" fill="none" stroke="#3a3a3a" stroke-width="1.8" stroke-linecap="round"/>
<path d="M388.3 141.8 C399.3 140.0 407.7 151.0 407.7 177.0 V199.6" fill="none" stroke="#0a0a0a" stroke-width="3.8" stroke-linecap="round"/>
<path d="M388.3 141.8 C399.3 140.0 407.7 151.0 407.7 177.0 V199.6" fill="none" stroke="#3a3a3a" stroke-width="1.8" stroke-linecap="round"/>
<path d="M440.9 142.2 C451.9 140.4 460.4 151.4 460.4 177.4 V199.6" fill="none" stroke="#0a0a0a" stroke-width="3.8" stroke-linecap="round"/>
<path d="M440.9 142.2 C451.9 140.4 460.4 151.4 460.4 177.4 V199.6" fill="none" stroke="#3a3a3a" stroke-width="1.8" stroke-linecap="round"/>
<path d="M493.6 141.8 C504.6 140.0 513.5 151.0 513.5 177.0 V199.6" fill="none" stroke="#0a0a0a" stroke-width="3.8" stroke-linecap="round"/>
<path d="M493.6 141.8 C504.6 140.0 513.5 151.0 513.5 177.0 V199.6" fill="none" stroke="#3a3a3a" stroke-width="1.8" stroke-linecap="round"/>
<path d="M547.0 142.7 C558.0 140.9 565.6 151.9 565.6 177.9 V199.6" fill="none" stroke="#0a0a0a" stroke-width="3.8" stroke-linecap="round"/>
<path d="M547.0 142.7 C558.0 140.9 565.6 151.9 565.6 177.9 V199.6" fill="none" stroke="#3a3a3a" stroke-width="1.8" stroke-linecap="round"/>
<path d="M168.5 147.0 L168.5 292" fill="none" stroke="#820c0c" stroke-width="4.0" stroke-linecap="round"/>
<path d="M168.5 147.0 L168.5 292" fill="none" stroke="#c81919" stroke-width="2.3" stroke-linecap="round"/>
<path d="M220.0 147.5 L221.8 292" fill="none" stroke="#820c0c" stroke-width="4.0" stroke-linecap="round"/>
<path d="M220.0 147.5 L221.8 292" fill="none" stroke="#c81919" stroke-width="2.3" stroke-linecap="round"/>
<path d="M274.7 147.5 L275.1 292" fill="none" stroke="#820c0c" stroke-width="4.0" stroke-linecap="round"/>
<path d="M274.7 147.5 L275.1 292" fill="none" stroke="#c81919" stroke-width="2.3" stroke-linecap="round"/>
<path d="M328.2 147.0 L328.4 292" fill="none" stroke="#820c0c" stroke-width="4.0" stroke-linecap="round"/>
<path d="M328.2 147.0 L328.4 292" fill="none" stroke="#c81919" stroke-width="2.3" stroke-linecap="round"/>
<path d="M381.2 148.0 L381.7 292" fill="none" stroke="#820c0c" stroke-width="4.0" stroke-linecap="round"/>
<path d="M381.2 148.0 L381.7 292" fill="none" stroke="#c81919" stroke-width="2.3" stroke-linecap="round"/>
<path d="M433.8 148.4 L435.0 292" fill="none" stroke="#820c0c" stroke-width="4.0" stroke-linecap="round"/>
<path d="M433.8 148.4 L435.0 292" fill="none" stroke="#c81919" stroke-width="2.3" stroke-linecap="round"/>
<path d="M486.5 148.0 L488.3 292" fill="none" stroke="#820c0c" stroke-width="4.0" stroke-linecap="round"/>
<path d="M486.5 148.0 L488.3 292" fill="none" stroke="#c81919" stroke-width="2.3" stroke-linecap="round"/>
<path d="M539.9 148.9 L541.6 292" fill="none" stroke="#820c0c" stroke-width="4.0" stroke-linecap="round"/>
<path d="M539.9 148.9 L541.6 292" fill="none" stroke="#c81919" stroke-width="2.3" stroke-linecap="round"/>
<path d="M150.5 292.4 C171.4 240.4 181.7 245.9 203.8 292.4" fill="none" stroke="#820c0c" stroke-width="3.9" stroke-linecap="round"/>
<path d="M150.5 292.4 C171.4 240.4 181.7 245.9 203.8 292.4" fill="none" stroke="#c81919" stroke-width="2.2" stroke-linecap="round"/>
<path d="M203.8 292.4 C224.7 240.4 235.0 245.9 257.1 292.4" fill="none" stroke="#820c0c" stroke-width="3.9" stroke-linecap="round"/>
<path d="M203.8 292.4 C224.7 240.4 235.0 245.9 257.1 292.4" fill="none" stroke="#c81919" stroke-width="2.2" stroke-linecap="round"/>
<path d="M257.1 292.4 C278.0 240.4 288.3 245.9 310.4 292.4" fill="none" stroke="#820c0c" stroke-width="3.9" stroke-linecap="round"/>
<path d="M257.1 292.4 C278.0 240.4 288.3 245.9 310.4 292.4" fill="none" stroke="#c81919" stroke-width="2.2" stroke-linecap="round"/>
<path d="M310.4 292.4 C331.3 240.4 341.6 245.9 363.7 292.4" fill="none" stroke="#820c0c" stroke-width="3.9" stroke-linecap="round"/>
<path d="M310.4 292.4 C331.3 240.4 341.6 245.9 363.7 292.4" fill="none" stroke="#c81919" stroke-width="2.2" stroke-linecap="round"/>
<path d="M363.7 292.4 C384.6 240.4 394.9 245.9 417.0 292.4" fill="none" stroke="#820c0c" stroke-width="3.9" stroke-linecap="round"/>
<path d="M363.7 292.4 C384.6 240.4 394.9 245.9 417.0 292.4" fill="none" stroke="#c81919" stroke-width="2.2" stroke-linecap="round"/>
<path d="M417.0 292.4 C437.9 240.4 448.2 245.9 470.3 292.4" fill="none" stroke="#820c0c" stroke-width="3.9" stroke-linecap="round"/>
<path d="M417.0 292.4 C437.9 240.4 448.2 245.9 470.3 292.4" fill="none" stroke="#c81919" stroke-width="2.2" stroke-linecap="round"/>
<path d="M470.3 292.4 C491.2 240.4 501.5 245.9 523.6 292.4" fill="none" stroke="#820c0c" stroke-width="3.9" stroke-linecap="round"/>
<path d="M470.3 292.4 C491.2 240.4 501.5 245.9 523.6 292.4" fill="none" stroke="#c81919" stroke-width="2.2" stroke-linecap="round"/>
<path d="M621.2 232.2 C575.7 231.1 522.9 231.5 523.6 292.4" fill="none" stroke="#820c0c" stroke-width="3.9" stroke-linecap="round"/>
<path d="M621.2 232.2 C575.7 231.1 522.9 231.5 523.6 292.4" fill="none" stroke="#c81919" stroke-width="2.2" stroke-linecap="round"/>
<circle cx="193.6" cy="199.6" r="1.6" fill="#b01818"/>
<circle cx="621.3" cy="199.6" r="1.7" fill="#b01818"/>
<circle cx="621.3" cy="232.4" r="1.7" fill="#7a0c0c"/>
<text x="590.7" y="220" font-size="9" fill="#555" textLength="42.5" lengthAdjust="spacingAndGlyphs">IN 220VAC</text>
</g>
<g id="bulbs">
<g transform="translate(0 0)">
<path d="M160.7 128.8 C160.7 122.5 153.9 120 153.9 110.6 A14.6 14.6 0 1 1 183.1 110.6 C183.1 120 176.3 122.5 176.3 128.8 Z" fill="#fbfb20" stroke="#5f5c14" stroke-width="0.9"/>
<path d="M164.9 128.6 L163.7 114 M171.1 128.6 L172.5 114" stroke="#4e4a1c" stroke-width="0.7" fill="none"/>
<rect x="163.3" y="108.6" width="9.6" height="6.8" rx="1.6" fill="#fbfb20" stroke="#4e4a1c" stroke-width="0.7"/>
<path d="M165.3 110.2 v3.8 M167.2 110.2 v3.8 M169.1 110.2 v3.8 M171.0 110.2 v3.8" stroke="#4e4a1c" stroke-width="0.8" fill="none"/>
<path d="M160.5 128.8 L177.1 128.8 Q177.9 131 176.7 133.4 Q177.3 136 176.1 138.4 Q176.5 141 175.1 144.6 L162.1 144.6 Q160.7 141 161.3 138.4 Q159.9 136 160.7 133.4 Q159.5 131 160.5 128.8 Z" fill="#c2c2c2" stroke="#4a4a4a" stroke-width="0.8"/>
<path d="M160.5 132.2 L176.7 134.4 M160.9 136.6 L176.3 139 M161.5 140.8 L175.5 143.2" stroke="#6a6a6a" stroke-width="0.9" fill="none"/>
<path d="M163.1 144.6 L173.9 144.6 L171.1 148 L165.9 148 Z" fill="#1e1e1e"/>
<circle cx="176.3" cy="141" r="1.5" fill="#a51c1c"/>
</g>
<g transform="translate(0 0.5)">
<path d="M212.2 128.8 C212.2 122.5 205.4 120 205.4 110.6 A14.6 14.6 0 1 1 234.6 110.6 C234.6 120 227.8 122.5 227.8 128.8 Z" fill="#fbfb20" stroke="#5f5c14" stroke-width="0.9"/>
<path d="M216.4 128.6 L215.2 114 M222.6 128.6 L224.0 114" stroke="#4e4a1c" stroke-width="0.7" fill="none"/>
<rect x="214.8" y="108.6" width="9.6" height="6.8" rx="1.6" fill="#fbfb20" stroke="#4e4a1c" stroke-width="0.7"/>
<path d="M216.8 110.2 v3.8 M218.7 110.2 v3.8 M220.6 110.2 v3.8 M222.5 110.2 v3.8" stroke="#4e4a1c" stroke-width="0.8" fill="none"/>
<path d="M212.0 128.8 L228.6 128.8 Q229.4 131 228.2 133.4 Q228.8 136 227.6 138.4 Q228.0 141 226.6 144.6 L213.6 144.6 Q212.2 141 212.8 138.4 Q211.4 136 212.2 133.4 Q211.0 131 212.0 128.8 Z" fill="#c2c2c2" stroke="#4a4a4a" stroke-width="0.8"/>
<path d="M212.0 132.2 L228.2 134.4 M212.4 136.6 L227.8 139 M213.0 140.8 L227.0 143.2" stroke="#6a6a6a" stroke-width="0.9" fill="none"/>
<path d="M214.6 144.6 L225.4 144.6 L222.6 148 L217.4 148 Z" fill="#1e1e1e"/>
<circle cx="227.8" cy="141" r="1.5" fill="#a51c1c"/>
</g>
<g transform="translate(0 0.5)">
<path d="M266.9 128.8 C266.9 122.5 260.1 120 260.1 110.6 A14.6 14.6 0 1 1 289.3 110.6 C289.3 120 282.5 122.5 282.5 128.8 Z" fill="#fbfb20" stroke="#5f5c14" stroke-width="0.9"/>
<path d="M271.1 128.6 L269.9 114 M277.3 128.6 L278.7 114" stroke="#4e4a1c" stroke-width="0.7" fill="none"/>
<rect x="269.5" y="108.6" width="9.6" height="6.8" rx="1.6" fill="#fbfb20" stroke="#4e4a1c" stroke-width="0.7"/>
<path d="M271.5 110.2 v3.8 M273.4 110.2 v3.8 M275.3 110.2 v3.8 M277.2 110.2 v3.8" stroke="#4e4a1c" stroke-width="0.8" fill="none"/>
<path d="M266.7 128.8 L283.3 128.8 Q284.1 131 282.9 133.4 Q283.5 136 282.3 138.4 Q282.7 141 281.3 144.6 L268.3 144.6 Q266.9 141 267.5 138.4 Q266.1 136 266.9 133.4 Q265.7 131 266.7 128.8 Z" fill="#c2c2c2" stroke="#4a4a4a" stroke-width="0.8"/>
<path d="M266.7 132.2 L282.9 134.4 M267.1 136.6 L282.5 139 M267.7 140.8 L281.7 143.2" stroke="#6a6a6a" stroke-width="0.9" fill="none"/>
<path d="M269.3 144.6 L280.1 144.6 L277.3 148 L272.1 148 Z" fill="#1e1e1e"/>
<circle cx="282.5" cy="141" r="1.5" fill="#a51c1c"/>
</g>
<g transform="translate(0 0)">
<path d="M320.4 128.8 C320.4 122.5 313.6 120 313.6 110.6 A14.6 14.6 0 1 1 342.8 110.6 C342.8 120 336.0 122.5 336.0 128.8 Z" fill="#fbfb20" stroke="#5f5c14" stroke-width="0.9"/>
<path d="M324.6 128.6 L323.4 114 M330.8 128.6 L332.2 114" stroke="#4e4a1c" stroke-width="0.7" fill="none"/>
<rect x="323.0" y="108.6" width="9.6" height="6.8" rx="1.6" fill="#fbfb20" stroke="#4e4a1c" stroke-width="0.7"/>
<path d="M325.0 110.2 v3.8 M326.9 110.2 v3.8 M328.8 110.2 v3.8 M330.7 110.2 v3.8" stroke="#4e4a1c" stroke-width="0.8" fill="none"/>
<path d="M320.2 128.8 L336.8 128.8 Q337.6 131 336.4 133.4 Q337.0 136 335.8 138.4 Q336.2 141 334.8 144.6 L321.8 144.6 Q320.4 141 321.0 138.4 Q319.6 136 320.4 133.4 Q319.2 131 320.2 128.8 Z" fill="#c2c2c2" stroke="#4a4a4a" stroke-width="0.8"/>
<path d="M320.2 132.2 L336.4 134.4 M320.6 136.6 L336.0 139 M321.2 140.8 L335.2 143.2" stroke="#6a6a6a" stroke-width="0.9" fill="none"/>
<path d="M322.8 144.6 L333.6 144.6 L330.8 148 L325.6 148 Z" fill="#1e1e1e"/>
<circle cx="336.0" cy="141" r="1.5" fill="#a51c1c"/>
</g>
<g transform="translate(0 1.0)">
<path d="M373.4 128.8 C373.4 122.5 366.6 120 366.6 110.6 A14.6 14.6 0 1 1 395.8 110.6 C395.8 120 389.0 122.5 389.0 128.8 Z" fill="#fbfb20" stroke="#5f5c14" stroke-width="0.9"/>
<path d="M377.6 128.6 L376.4 114 M383.8 128.6 L385.2 114" stroke="#4e4a1c" stroke-width="0.7" fill="none"/>
<rect x="376.0" y="108.6" width="9.6" height="6.8" rx="1.6" fill="#fbfb20" stroke="#4e4a1c" stroke-width="0.7"/>
<path d="M378.0 110.2 v3.8 M379.9 110.2 v3.8 M381.8 110.2 v3.8 M383.7 110.2 v3.8" stroke="#4e4a1c" stroke-width="0.8" fill="none"/>
<path d="M373.2 128.8 L389.8 128.8 Q390.6 131 389.4 133.4 Q390.0 136 388.8 138.4 Q389.2 141 387.8 144.6 L374.8 144.6 Q373.4 141 374.0 138.4 Q372.6 136 373.4 133.4 Q372.2 131 373.2 128.8 Z" fill="#c2c2c2" stroke="#4a4a4a" stroke-width="0.8"/>
<path d="M373.2 132.2 L389.4 134.4 M373.6 136.6 L389.0 139 M374.2 140.8 L388.2 143.2" stroke="#6a6a6a" stroke-width="0.9" fill="none"/>
<path d="M375.8 144.6 L386.6 144.6 L383.8 148 L378.6 148 Z" fill="#1e1e1e"/>
<circle cx="389.0" cy="141" r="1.5" fill="#a51c1c"/>
</g>
<g transform="translate(0 1.4)">
<path d="M426.0 128.8 C426.0 122.5 419.2 120 419.2 110.6 A14.6 14.6 0 1 1 448.4 110.6 C448.4 120 441.6 122.5 441.6 128.8 Z" fill="#fbfb20" stroke="#5f5c14" stroke-width="0.9"/>
<path d="M430.2 128.6 L429.0 114 M436.4 128.6 L437.8 114" stroke="#4e4a1c" stroke-width="0.7" fill="none"/>
<rect x="428.6" y="108.6" width="9.6" height="6.8" rx="1.6" fill="#fbfb20" stroke="#4e4a1c" stroke-width="0.7"/>
<path d="M430.6 110.2 v3.8 M432.5 110.2 v3.8 M434.4 110.2 v3.8 M436.3 110.2 v3.8" stroke="#4e4a1c" stroke-width="0.8" fill="none"/>
<path d="M425.8 128.8 L442.4 128.8 Q443.2 131 442.0 133.4 Q442.6 136 441.4 138.4 Q441.8 141 440.4 144.6 L427.4 144.6 Q426.0 141 426.6 138.4 Q425.2 136 426.0 133.4 Q424.8 131 425.8 128.8 Z" fill="#c2c2c2" stroke="#4a4a4a" stroke-width="0.8"/>
<path d="M425.8 132.2 L442.0 134.4 M426.2 136.6 L441.6 139 M426.8 140.8 L440.8 143.2" stroke="#6a6a6a" stroke-width="0.9" fill="none"/>
<path d="M428.4 144.6 L439.2 144.6 L436.4 148 L431.2 148 Z" fill="#1e1e1e"/>
<circle cx="441.6" cy="141" r="1.5" fill="#a51c1c"/>
</g>
<g transform="translate(0 1.0)">
<path d="M478.7 128.8 C478.7 122.5 471.9 120 471.9 110.6 A14.6 14.6 0 1 1 501.1 110.6 C501.1 120 494.3 122.5 494.3 128.8 Z" fill="#fbfb20" stroke="#5f5c14" stroke-width="0.9"/>
<path d="M482.9 128.6 L481.7 114 M489.1 128.6 L490.5 114" stroke="#4e4a1c" stroke-width="0.7" fill="none"/>
<rect x="481.3" y="108.6" width="9.6" height="6.8" rx="1.6" fill="#fbfb20" stroke="#4e4a1c" stroke-width="0.7"/>
<path d="M483.3 110.2 v3.8 M485.2 110.2 v3.8 M487.1 110.2 v3.8 M489.0 110.2 v3.8" stroke="#4e4a1c" stroke-width="0.8" fill="none"/>
<path d="M478.5 128.8 L495.1 128.8 Q495.9 131 494.7 133.4 Q495.3 136 494.1 138.4 Q494.5 141 493.1 144.6 L480.1 144.6 Q478.7 141 479.3 138.4 Q477.9 136 478.7 133.4 Q477.5 131 478.5 128.8 Z" fill="#c2c2c2" stroke="#4a4a4a" stroke-width="0.8"/>
<path d="M478.5 132.2 L494.7 134.4 M478.9 136.6 L494.3 139 M479.5 140.8 L493.5 143.2" stroke="#6a6a6a" stroke-width="0.9" fill="none"/>
<path d="M481.1 144.6 L491.9 144.6 L489.1 148 L483.9 148 Z" fill="#1e1e1e"/>
<circle cx="494.3" cy="141" r="1.5" fill="#a51c1c"/>
</g>
<g transform="translate(0 1.9)">
<path d="M532.1 128.8 C532.1 122.5 525.3 120 525.3 110.6 A14.6 14.6 0 1 1 554.5 110.6 C554.5 120 547.7 122.5 547.7 128.8 Z" fill="#fbfb20" stroke="#5f5c14" stroke-width="0.9"/>
<path d="M536.3 128.6 L535.1 114 M542.5 128.6 L543.9 114" stroke="#4e4a1c" stroke-width="0.7" fill="none"/>
<rect x="534.7" y="108.6" width="9.6" height="6.8" rx="1.6" fill="#fbfb20" stroke="#4e4a1c" stroke-width="0.7"/>
<path d="M536.7 110.2 v3.8 M538.6 110.2 v3.8 M540.5 110.2 v3.8 M542.4 110.2 v3.8" stroke="#4e4a1c" stroke-width="0.8" fill="none"/>
<path d="M531.9 128.8 L548.5 128.8 Q549.3 131 548.1 133.4 Q548.7 136 547.5 138.4 Q547.9 141 546.5 144.6 L533.5 144.6 Q532.1 141 532.7 138.4 Q531.3 136 532.1 133.4 Q530.9 131 531.9 128.8 Z" fill="#c2c2c2" stroke="#4a4a4a" stroke-width="0.8"/>
<path d="M531.9 132.2 L548.1 134.4 M532.3 136.6 L547.7 139 M532.9 140.8 L546.9 143.2" stroke="#6a6a6a" stroke-width="0.9" fill="none"/>
<path d="M534.5 144.6 L545.3 144.6 L542.5 148 L537.3 148 Z" fill="#1e1e1e"/>
<circle cx="547.7" cy="141" r="1.5" fill="#a51c1c"/>
</g>
</g>
<g id="danger">
<rect x="562.4" y="18" width="82" height="27.2" fill="#ffe715"/>
<path d="M577.8 21.8 L588.2 41 L567.2 41 Z" fill="#ffe715" stroke="#000" stroke-width="1.8" stroke-linejoin="round"/>
<path d="M577.4 25.6 L574.2 33 L577.2 32.4 L575.4 38.8 L581.2 30.6 L578.2 31.2 L580.6 25.6 Z" fill="#000"/>
<text x="589.6" y="32" font-size="11.6" font-weight="bold" fill="#000" textLength="51.4" lengthAdjust="spacingAndGlyphs">DANGER</text>
<text x="596.5" y="40.2" font-size="9" font-weight="bold" fill="#000" textLength="36.5" lengthAdjust="spacingAndGlyphs">220V AC</text>
</g>
<g id="hc05">
<rect x="0" y="486" width="126.1" height="55.2" fill="#1268c4"/>
<rect x="2.3" y="492" width="95.4" height="43.4" fill="#1fa553"/>
<path d="M23 494.7 H6 V499.2 H19.3 V503.7 H6 V508.2 H19.3 V512.7 H6 V517.2 H19.3 V521.7 H6 V526.2 H19.3 V530.7 H5" fill="none" stroke="#d3c92f" stroke-width="2.1"/>
<rect x="25.8" y="487.6" width="3.1" height="5.1" fill="#8c9dc0"/>
<rect x="25.8" y="534.5" width="3.1" height="5.1" fill="#8c9dc0"/>
<rect x="31.2" y="487.6" width="3.1" height="5.1" fill="#8c9dc0"/>
<rect x="31.2" y="534.5" width="3.1" height="5.1" fill="#8c9dc0"/>
<rect x="36.5" y="487.6" width="3.1" height="5.1" fill="#8c9dc0"/>
<rect x="36.5" y="534.5" width="3.1" height="5.1" fill="#8c9dc0"/>
<rect x="41.9" y="487.6" width="3.1" height="5.1" fill="#8c9dc0"/>
<rect x="41.9" y="534.5" width="3.1" height="5.1" fill="#8c9dc0"/>
<rect x="47.3" y="487.6" width="3.1" height="5.1" fill="#8c9dc0"/>
<rect x="47.3" y="534.5" width="3.1" height="5.1" fill="#8c9dc0"/>
<rect x="52.7" y="487.6" width="3.1" height="5.1" fill="#8c9dc0"/>
<rect x="52.7" y="534.5" width="3.1" height="5.1" fill="#8c9dc0"/>
<rect x="58.0" y="487.6" width="3.1" height="5.1" fill="#8c9dc0"/>
<rect x="58.0" y="534.5" width="3.1" height="5.1" fill="#8c9dc0"/>
<rect x="63.4" y="487.6" width="3.1" height="5.1" fill="#8c9dc0"/>
<rect x="63.4" y="534.5" width="3.1" height="5.1" fill="#8c9dc0"/>
<rect x="68.8" y="487.6" width="3.1" height="5.1" fill="#8c9dc0"/>
<rect x="68.8" y="534.5" width="3.1" height="5.1" fill="#8c9dc0"/>
<rect x="74.1" y="487.6" width="3.1" height="5.1" fill="#8c9dc0"/>
<rect x="74.1" y="534.5" width="3.1" height="5.1" fill="#8c9dc0"/>
<rect x="79.5" y="487.6" width="3.1" height="5.1" fill="#8c9dc0"/>
<rect x="79.5" y="534.5" width="3.1" height="5.1" fill="#8c9dc0"/>
<rect x="84.9" y="487.6" width="3.1" height="5.1" fill="#8c9dc0"/>
<rect x="84.9" y="534.5" width="3.1" height="5.1" fill="#8c9dc0"/>
<rect x="90.2" y="487.6" width="3.1" height="5.1" fill="#8c9dc0"/>
<rect x="90.2" y="534.5" width="3.1" height="5.1" fill="#8c9dc0"/>
<rect x="96.4" y="493.9" width="5.4" height="3" fill="#8c9dc0"/>
<rect x="96.4" y="499.0" width="5.4" height="3" fill="#8c9dc0"/>
<rect x="96.4" y="504.2" width="5.4" height="3" fill="#8c9dc0"/>
<rect x="96.4" y="509.3" width="5.4" height="3" fill="#8c9dc0"/>
<rect x="96.4" y="514.5" width="5.4" height="3" fill="#8c9dc0"/>
<rect x="96.4" y="519.6" width="5.4" height="3" fill="#8c9dc0"/>
<rect x="96.4" y="524.8" width="5.4" height="3" fill="#8c9dc0"/>
<rect x="96.4" y="529.9" width="5.4" height="3" fill="#8c9dc0"/>
<rect x="40" y="496.6" width="26.6" height="24.8" fill="#303030"/>
<rect x="73.6" y="496.6" width="19" height="24.8" fill="#303030"/>
<text class="m" x="42" y="507.7" font-size="6.6" style="font-weight:normal" textLength="22" lengthAdjust="spacingAndGlyphs">HC-05</text>
<text class="m" x="41.6" y="513.1" font-size="3.4" textLength="22.6" lengthAdjust="spacingAndGlyphs">Bluetooth</text>
<text class="m" x="114.6" y="493.1" font-size="5.6" text-anchor="end">Key</text>
<circle cx="119.5" cy="491.1" r="3.7" fill="#0c0c0c"/>
<rect x="117.6" y="489.3" width="18" height="3.6" rx="1.6" fill="#f8d4d0"/>
<text class="m" x="114.6" y="502.0" font-size="5.6" text-anchor="end">VCC</text>
<circle cx="119.5" cy="500.0" r="3.7" fill="#0c0c0c"/>
<rect x="117.6" y="498.2" width="18" height="3.6" rx="1.6" fill="#f8d4d0"/>
<text class="m" x="114.6" y="511.0" font-size="5.6" text-anchor="end">GND</text>
<circle cx="119.5" cy="509.0" r="3.7" fill="#0c0c0c"/>
<rect x="117.6" y="507.2" width="18" height="3.6" rx="1.6" fill="#f8d4d0"/>
<text class="m" x="114.6" y="520.0" font-size="5.6" text-anchor="end">TXD</text>
<circle cx="119.5" cy="518.0" r="3.7" fill="#0c0c0c"/>
<rect x="117.6" y="516.2" width="18" height="3.6" rx="1.6" fill="#f8d4d0"/>
<text class="m" x="114.6" y="528.9" font-size="5.6" text-anchor="end">RXD</text>
<circle cx="119.5" cy="526.9" r="3.7" fill="#0c0c0c"/>
<rect x="117.6" y="525.1" width="18" height="3.6" rx="1.6" fill="#f8d4d0"/>
<text class="m" x="114.6" y="538.0" font-size="5.6" text-anchor="end">State</text>
<circle cx="119.5" cy="536.0" r="3.7" fill="#0c0c0c"/>
<rect x="117.6" y="534.2" width="18" height="3.6" rx="1.6" fill="#f8d4d0"/>
<rect x="135.4" y="488.9" width="12.2" height="4.4" fill="#f08a88"/>
<rect x="135.4" y="533.8" width="12.2" height="4.4" fill="#f08a88"/>
<rect x="135.4" y="497.9" width="5" height="4.2" fill="#cfe8b0"/>
<rect x="135.4" y="506.9" width="5" height="4.2" fill="#cfe8b0"/>
<rect x="135.4" y="515.9" width="5" height="4.2" fill="#cfe8b0"/>
<rect x="135.4" y="524.8" width="5" height="4.2" fill="#cfe8b0"/>
</g>
<g id="arduino">
<path d="M196 584.2 H419 L423.6 589.2 V630.6 L432 637.6 V752 L422.8 762 V767.6 L420.4 769.7 H195.4 Q192.4 769.7 192.4 766.7 V587.2 Q192.4 584.2 195.4 584.2 Z" fill="#117494"/>
<circle cx="245.5" cy="593" r="5.6" fill="#fff"/>
<circle cx="422.8" cy="646" r="5.6" fill="#fff"/>
<circle cx="422.8" cy="743.7" r="5.6" fill="#fff"/>
<circle cx="240.9" cy="761.7" r="5.6" fill="#fff"/>
<rect x="201" y="585.6" width="26" height="21.2" rx="1" fill="#e3e3e3"/>
<rect x="199.2" y="588.6" width="2.4" height="3.4" fill="#d0d0d0"/><rect x="199.2" y="600.4" width="2.4" height="3.4" fill="#d0d0d0"/>
<circle cx="213.4" cy="596.4" r="6.9" fill="#ae2320"/>
<text class="m" x="204" y="613.4" font-size="5.6" textLength="18" lengthAdjust="spacingAndGlyphs">RESET</text>
<rect x="243.4" y="600.6" width="25.8" height="16.8" fill="#222"/>
<rect x="246.2" y="603.2" width="3.4" height="3.4" fill="#8d7a5b"/>
<rect x="254.8" y="603.2" width="3.4" height="3.4" fill="#8d7a5b"/>
<rect x="263.4" y="603.2" width="3.4" height="3.4" fill="#8d7a5b"/>
<rect x="246.2" y="611.4" width="3.4" height="3.4" fill="#8d7a5b"/>
<rect x="254.8" y="611.4" width="3.4" height="3.4" fill="#8d7a5b"/>
<rect x="263.4" y="611.4" width="3.4" height="3.4" fill="#8d7a5b"/>
<text class="m" x="243.9" y="624" font-size="5.6" textLength="17.8" lengthAdjust="spacingAndGlyphs">ICSP2</text>
<circle cx="269.6" cy="600" r="0.9" fill="#fff"/>
<rect x="253.2" y="588.5" width="88.6" height="7.8" fill="#383838"/>
<rect x="347.8" y="588.5" width="70.9" height="7.8" fill="#383838"/>
<rect x="255.7" y="590.9" width="3.6" height="3.6" fill="#0a0a0a"/>
<rect x="264.6" y="590.9" width="3.6" height="3.6" fill="#0a0a0a"/>
<rect x="273.4" y="590.9" width="3.6" height="3.6" fill="#0a0a0a"/>
<rect x="282.3" y="590.9" width="3.6" height="3.6" fill="#0a0a0a"/>
<rect x="291.2" y="590.9" width="3.6" height="3.6" fill="#0a0a0a"/>
<rect x="300.1" y="590.9" width="3.6" height="3.6" fill="#0a0a0a"/>
<rect x="308.9" y="590.9" width="3.6" height="3.6" fill="#0a0a0a"/>
<rect x="317.8" y="590.9" width="3.6" height="3.6" fill="#0a0a0a"/>
<rect x="326.7" y="590.9" width="3.6" height="3.6" fill="#0a0a0a"/>
<rect x="335.5" y="590.9" width="3.6" height="3.6" fill="#0a0a0a"/>
<rect x="350.5" y="590.9" width="3.6" height="3.6" fill="#0a0a0a"/>
<rect x="359.4" y="590.9" width="3.6" height="3.6" fill="#0a0a0a"/>
<rect x="368.2" y="590.9" width="3.6" height="3.6" fill="#0a0a0a"/>
<rect x="377.1" y="590.9" width="3.6" height="3.6" fill="#0a0a0a"/>
<rect x="386.0" y="590.9" width="3.6" height="3.6" fill="#0a0a0a"/>
<rect x="394.8" y="590.9" width="3.6" height="3.6" fill="#0a0a0a"/>
<rect x="403.7" y="590.9" width="3.6" height="3.6" fill="#0a0a0a"/>
<rect x="412.6" y="590.9" width="3.6" height="3.6" fill="#0a0a0a"/>
<text class="m" transform="translate(277.8 599) rotate(-90)" font-size="5.5" text-anchor="end" textLength="12.4" lengthAdjust="spacingAndGlyphs">AREF</text>
<text class="m" transform="translate(286.7 599) rotate(-90)" font-size="5.5" text-anchor="end" textLength="9.3" lengthAdjust="spacingAndGlyphs">GND</text>
<text class="m" transform="translate(295.6 599) rotate(-90)" font-size="5.5" text-anchor="end" textLength="6.2" lengthAdjust="spacingAndGlyphs">13</text>
<text class="m" transform="translate(304.5 599) rotate(-90)" font-size="5.5" text-anchor="end" textLength="6.2" lengthAdjust="spacingAndGlyphs">12</text>
<text class="m" transform="translate(313.3 599) rotate(-90)" font-size="5.5" text-anchor="end" textLength="9.3" lengthAdjust="spacingAndGlyphs">~11</text>
<text class="m" transform="translate(322.2 599) rotate(-90)" font-size="5.5" text-anchor="end" textLength="9.3" lengthAdjust="spacingAndGlyphs">~10</text>
<text class="m" transform="translate(331.1 599) rotate(-90)" font-size="5.5" text-anchor="end" textLength="6.2" lengthAdjust="spacingAndGlyphs">~9</text>
<text class="m" transform="translate(339.9 599) rotate(-90)" font-size="5.5" text-anchor="end" textLength="3.1" lengthAdjust="spacingAndGlyphs">8</text>
<text class="m" transform="translate(354.9 599) rotate(-90)" font-size="5.5" text-anchor="end">7</text>
<text class="m" transform="translate(363.8 599) rotate(-90)" font-size="5.5" text-anchor="end">~6</text>
<text class="m" transform="translate(372.6 599) rotate(-90)" font-size="5.5" text-anchor="end">~5</text>
<text class="m" transform="translate(381.5 599) rotate(-90)" font-size="5.5" text-anchor="end">4</text>
<text class="m" transform="translate(390.4 599) rotate(-90)" font-size="5.5" text-anchor="end">~3</text>
<text class="m" transform="translate(399.2 599) rotate(-90)" font-size="5.5" text-anchor="end">2</text>
<text class="m" transform="translate(408.1 599) rotate(-90)" font-size="6.1" text-anchor="end">TX0&#9654;1</text>
<text class="m" transform="translate(417.0 599) rotate(-90)" font-size="6.1" text-anchor="end">RX0&#9664;0</text>
<path d="M284 620 H417" stroke="#fff" stroke-width="1" fill="none"/>
<text class="m" x="349.5" y="618" font-size="5.4" textLength="47.4" lengthAdjust="spacingAndGlyphs">DIGITAL (PWM=~)</text>
<rect x="285.4" y="624.0" width="9" height="4.8" fill="#f2f2ea"/>
<text class="m" x="283" y="628.5" font-size="5.8" text-anchor="end">L</text>
<rect x="285.4" y="640.2" width="9" height="4.8" fill="#f2f2ea"/>
<text class="m" x="283" y="644.7" font-size="5.8" text-anchor="end">TX</text>
<rect x="285.4" y="647.8" width="9" height="4.8" fill="#f2f2ea"/>
<text class="m" x="283" y="652.3" font-size="5.8" text-anchor="end">RX</text>
<rect x="395.2" y="640.4" width="8.6" height="4.6" fill="#f2f2ea"/>
<text class="m" x="406.2" y="644.8" font-size="5.8">ON</text>
<rect x="253.6" y="640.8" width="17.2" height="17.2" fill="#2c2c2c"/>
<g fill="none" stroke="#fff">
<path d="M325.4 633 C321.4 626.4 318 625.2 314.4 625.2 A7.8 7.8 0 1 0 314.4 640.8 C318 640.8 321.4 639.6 325.4 633 C329.4 626.4 332.8 625.2 336.4 625.2 A7.8 7.8 0 1 1 336.4 640.8 C332.8 640.8 329.4 639.6 325.4 633 Z" stroke-width="4.1"/>
<path d="M311 633 h6.8 M333 633 h6.8 M336.4 629.6 v6.8" stroke-width="1.9"/>
<rect x="350.4" y="623.8" width="41.4" height="18.4" rx="9.2" stroke-width="1.4" stroke-dasharray="2.2 0.6"/>
</g>
<text x="370.9" y="639" font-size="15" text-anchor="middle" fill="#fff" textLength="32" lengthAdjust="spacingAndGlyphs">UNO</text>
<text class="m" x="305.4" y="652" font-size="7.8" style="font-weight:normal" stroke="#fff" stroke-width="0.25" textLength="35.6" lengthAdjust="spacing">Arduino</text>
<text class="m" x="341.4" y="648.2" font-size="3.6" textLength="4.2" lengthAdjust="spacingAndGlyphs">TM</text>
<rect x="410.8" y="659.6" width="16.8" height="25.6" rx="1.5" fill="#222"/>
<rect x="413.4" y="662.4" width="3.4" height="3.4" fill="#8d7a5b"/>
<rect x="421.6" y="662.4" width="3.4" height="3.4" fill="#8d7a5b"/>
<rect x="413.4" y="670.8" width="3.4" height="3.4" fill="#8d7a5b"/>
<rect x="421.6" y="670.8" width="3.4" height="3.4" fill="#8d7a5b"/>
<rect x="413.4" y="679.2" width="3.4" height="3.4" fill="#8d7a5b"/>
<rect x="421.6" y="679.2" width="3.4" height="3.4" fill="#8d7a5b"/>
<text class="m" x="406" y="664.4" font-size="5.4">1</text>
<text class="m" transform="translate(409.3 685.2) rotate(-90)" font-size="5.4" textLength="14.4" lengthAdjust="spacingAndGlyphs">ICSP</text>
<rect x="192.6" y="612.4" width="5.4" height="50" fill="#9b9b9b"/>
<rect x="170.6" y="617.2" width="54.2" height="40" fill="#b4b4b4"/>
<rect x="170.6" y="617.2" width="9.4" height="40" fill="#989898"/>
<rect x="170.6" y="617.2" width="54.2" height="3" fill="#a2a2a2"/>
<rect x="206.4" y="703" width="7.4" height="13.4" fill="#a9a9a9"/>
<rect x="213.4" y="698.4" width="12.6" height="22.6" fill="#2e2e2e"/>
<rect x="226" y="700" width="5.8" height="4.2" fill="#a9a9a9"/>
<rect x="226" y="707.4" width="5.8" height="4.2" fill="#a9a9a9"/>
<rect x="226" y="715" width="5.8" height="4.2" fill="#a9a9a9"/>
<rect x="187" y="728" width="45.6" height="30.8" rx="1.2" fill="#161616"/>
<rect x="196" y="730.4" width="36.6" height="25.6" fill="#232323"/>
<rect x="196" y="730.4" width="36.6" height="3" fill="#2e2e2e"/>
<rect x="187" y="728" width="9" height="30.8" fill="#0c0c0c"/>
<rect x="232.6" y="736" width="1.8" height="14" fill="#0e6a88"/>
<rect x="245.4" y="727" width="22.8" height="22.6" rx="1.5" fill="#106d8c"/>
<path d="M245.4 744.4 H268.2 V748 Q268.2 749.6 266.6 749.6 H247.0 Q245.4 749.6 245.4 748 Z" fill="#2a3a42"/>
<circle cx="256.8" cy="738.3" r="10.9" fill="#ebebeb"/>
<path d="M248.2 745 A10.9 10.9 0 0 0 265.4 745 Z" fill="#101010"/>
<rect x="256.3" y="726.4" width="1" height="1.6" fill="#fff"/><rect x="256.3" y="748.6" width="1" height="1.6" fill="#fff"/>
<rect x="270.0" y="727" width="22.8" height="22.6" rx="1.5" fill="#106d8c"/>
<path d="M270.0 744.4 H292.8 V748 Q292.8 749.6 291.2 749.6 H271.6 Q270.0 749.6 270.0 748 Z" fill="#2a3a42"/>
<circle cx="281.4" cy="738.3" r="10.9" fill="#ebebeb"/>
<path d="M272.8 745 A10.9 10.9 0 0 0 290.0 745 Z" fill="#101010"/>
<rect x="280.9" y="726.4" width="1" height="1.6" fill="#fff"/><rect x="280.9" y="748.6" width="1" height="1.6" fill="#fff"/>
<rect x="290" y="703.4" width="129" height="19.2" fill="#303030"/>
<rect x="285.4" y="757.5" width="71.2" height="7.8" fill="#383838"/>
<rect x="365.8" y="757.5" width="52.6" height="7.8" fill="#383838"/>
<rect x="288.2" y="759.6" width="3.6" height="3.6" fill="#0a0a0a"/>
<rect x="297.1" y="759.6" width="3.6" height="3.6" fill="#0a0a0a"/>
<rect x="305.9" y="759.6" width="3.6" height="3.6" fill="#0a0a0a"/>
<rect x="314.8" y="759.6" width="3.6" height="3.6" fill="#0a0a0a"/>
<rect x="323.7" y="759.6" width="3.6" height="3.6" fill="#0a0a0a"/>
<rect x="332.6" y="759.6" width="3.6" height="3.6" fill="#0a0a0a"/>
<rect x="341.4" y="759.6" width="3.6" height="3.6" fill="#0a0a0a"/>
<rect x="350.3" y="759.6" width="3.6" height="3.6" fill="#0a0a0a"/>
<rect x="368.2" y="759.6" width="3.6" height="3.6" fill="#0a0a0a"/>
<rect x="377.1" y="759.6" width="3.6" height="3.6" fill="#0a0a0a"/>
<rect x="385.9" y="759.6" width="3.6" height="3.6" fill="#0a0a0a"/>
<rect x="394.8" y="759.6" width="3.6" height="3.6" fill="#0a0a0a"/>
<rect x="403.7" y="759.6" width="3.6" height="3.6" fill="#0a0a0a"/>
<rect x="412.6" y="759.6" width="3.6" height="3.6" fill="#0a0a0a"/>
<rect x="323.5" y="759.4" width="4" height="4" fill="#c98a2a"/>
<rect x="332.4" y="759.4" width="4" height="4" fill="#2c8a36"/>
<rect x="341.2" y="759.4" width="4" height="4" fill="#2c8a36"/>
<rect x="282.1" y="590.7" width="4" height="4" fill="#2c8a36"/>
<text class="m" transform="translate(300.6 756) rotate(-90)" font-size="4.5">IOREF</text>
<text class="m" transform="translate(309.4 756) rotate(-90)" font-size="4.5">RESET</text>
<text class="m" transform="translate(318.3 756) rotate(-90)" font-size="5.0">3V3</text>
<text class="m" transform="translate(327.2 756) rotate(-90)" font-size="5.0">5V</text>
<text class="m" transform="translate(336.1 756) rotate(-90)" font-size="5.0">GND</text>
<text class="m" transform="translate(344.9 756) rotate(-90)" font-size="5.0">GND</text>
<text class="m" transform="translate(353.8 756) rotate(-90)" font-size="5.0">VIN</text>
<text class="m" transform="translate(371.7 756) rotate(-90)" font-size="5.2">A0</text>
<text class="m" transform="translate(380.6 756) rotate(-90)" font-size="5.2">A1</text>
<text class="m" transform="translate(389.4 756) rotate(-90)" font-size="5.2">A2</text>
<text class="m" transform="translate(398.3 756) rotate(-90)" font-size="5.2">A3</text>
<text class="m" transform="translate(407.2 756) rotate(-90)" font-size="5.2">A4</text>
<text class="m" transform="translate(416.1 756) rotate(-90)" font-size="5.2">A5</text>
<path d="M312 739.5 H356.6 M367.2 739.5 H416.6" stroke="#fff" stroke-width="1" fill="none"/>
<text class="m" x="340" y="745.8" font-size="5.6" textLength="16.4" lengthAdjust="spacingAndGlyphs">POWER</text>
<text class="m" x="387" y="745.8" font-size="5.6" textLength="29" lengthAdjust="spacingAndGlyphs">ANALOG IN</text>
</g>
<g id="wires">
<path d="M282.3 436 L284.1 592.7" fill="none" stroke="#0a0a0a" stroke-width="4.1" stroke-linecap="round"/>
<path d="M282.3 436 L284.1 592.7" fill="none" stroke="#3a3a3a" stroke-width="1.9" stroke-linecap="round"/>
<path d="M291.6 436.0 C288.4 511.8 434.8 548.3 396.7 592.7" fill="none" stroke="#b0a818" stroke-width="4.0" stroke-linecap="round"/>
<path d="M291.6 436.0 C288.4 511.8 434.8 548.3 396.7 592.7" fill="none" stroke="#f7f03a" stroke-width="2.2" stroke-linecap="round"/>
<path d="M300.7 436.0 C301.3 437.2 303.0 440.8 304.2 443.2 C305.5 445.5 306.9 447.8 308.2 450.1 C309.5 452.4 310.9 454.7 312.3 457.0 C313.7 459.3 315.0 461.5 316.5 463.8 C317.9 466.1 319.3 468.4 320.7 470.6 C322.2 472.9 323.6 475.1 325.1 477.3 C326.6 479.6 328.1 481.8 329.6 484.0 C331.1 486.2 332.6 488.4 334.1 490.6 C335.7 492.7 337.2 494.9 338.8 497.0 C340.3 499.2 341.9 501.3 343.5 503.4 C345.1 505.6 346.7 507.7 348.3 509.8 C349.9 511.9 351.6 514.0 353.2 516.1 C354.9 518.2 356.5 520.3 358.2 522.4 C359.8 524.5 361.5 526.6 363.1 528.7 C364.8 530.8 366.5 532.9 368.2 535.0 C369.8 537.2 371.5 539.3 373.2 541.4 C374.9 543.6 376.5 545.7 378.1 547.9 C379.7 550.1 381.2 552.3 382.6 554.5 C384.0 556.8 385.3 559.1 386.3 561.4 C387.4 563.8 388.4 566.2 389.1 568.6 C389.7 571.1 390.3 573.6 390.4 576.2 C390.6 578.8 390.6 581.5 390.2 584.2 C389.8 587.0 388.3 591.3 387.9 592.7" fill="none" stroke="#0f8f12" stroke-width="4.0" stroke-linecap="round"/>
<path d="M300.7 436.0 C301.3 437.2 303.0 440.8 304.2 443.2 C305.5 445.5 306.9 447.8 308.2 450.1 C309.5 452.4 310.9 454.7 312.3 457.0 C313.7 459.3 315.0 461.5 316.5 463.8 C317.9 466.1 319.3 468.4 320.7 470.6 C322.2 472.9 323.6 475.1 325.1 477.3 C326.6 479.6 328.1 481.8 329.6 484.0 C331.1 486.2 332.6 488.4 334.1 490.6 C335.7 492.7 337.2 494.9 338.8 497.0 C340.3 499.2 341.9 501.3 343.5 503.4 C345.1 505.6 346.7 507.7 348.3 509.8 C349.9 511.9 351.6 514.0 353.2 516.1 C354.9 518.2 356.5 520.3 358.2 522.4 C359.8 524.5 361.5 526.6 363.1 528.7 C364.8 530.8 366.5 532.9 368.2 535.0 C369.8 537.2 371.5 539.3 373.2 541.4 C374.9 543.6 376.5 545.7 378.1 547.9 C379.7 550.1 381.2 552.3 382.6 554.5 C384.0 556.8 385.3 559.1 386.3 561.4 C387.4 563.8 388.4 566.2 389.1 568.6 C389.7 571.1 390.3 573.6 390.4 576.2 C390.6 578.8 390.6 581.5 390.2 584.2 C389.8 587.0 388.3 591.3 387.9 592.7" fill="none" stroke="#2fd32f" stroke-width="2.2" stroke-linecap="round"/>
<path d="M318.6 436.0 C343.7 484.5 379.2 535.0 370.2 592.7" fill="none" stroke="#9a9a9a" stroke-width="4.0" stroke-linecap="round"/>
<path d="M318.6 436.0 C343.7 484.5 379.2 535.0 370.2 592.7" fill="none" stroke="#ffffff" stroke-width="2.2" stroke-linecap="round"/>
<path d="M309.3 436.0 C329.1 471.2 384.4 552.3 379.1 592.7" fill="none" stroke="#6e6e6e" stroke-width="4.0" stroke-linecap="round"/>
<path d="M309.3 436.0 C329.1 471.2 384.4 552.3 379.1 592.7" fill="none" stroke="#b5b5b5" stroke-width="2.2" stroke-linecap="round"/>
<path d="M336.3 436.0 C378.1 473.6 366.2 545.1 352.3 592.7" fill="none" stroke="#78560e" stroke-width="4.0" stroke-linecap="round"/>
<path d="M336.3 436.0 C378.1 473.6 366.2 545.1 352.3 592.7" fill="none" stroke="#aa7e18" stroke-width="2.2" stroke-linecap="round"/>
<path d="M327.7 436.0 C359.1 480.4 379.7 538.9 361.5 592.7" fill="none" stroke="#a84c10" stroke-width="4.0" stroke-linecap="round"/>
<path d="M327.7 436.0 C359.1 480.4 379.7 538.9 361.5 592.7" fill="none" stroke="#e4741e" stroke-width="2.2" stroke-linecap="round"/>
<path d="M344.8 436.0 C344.2 437.0 342.5 440.1 341.4 442.2 C340.3 444.2 339.0 446.4 337.9 448.5 C336.8 450.6 335.8 452.8 334.8 455.0 C333.9 457.2 333.0 459.4 332.1 461.6 C331.3 463.8 330.5 466.1 329.8 468.3 C329.1 470.6 328.5 472.8 327.9 475.1 C327.3 477.4 326.8 479.7 326.4 482.0 C326.0 484.3 325.6 486.6 325.3 488.9 C325.0 491.2 324.8 493.6 324.6 495.9 C324.4 498.2 324.3 500.5 324.3 502.9 C324.3 505.2 324.3 507.5 324.5 509.9 C324.6 512.2 324.8 514.5 325.0 516.8 C325.3 519.2 325.6 521.5 326.0 523.8 C326.4 526.1 326.9 528.4 327.4 530.7 C327.9 533.0 328.4 535.3 329.0 537.6 C329.5 539.9 330.1 542.2 330.7 544.4 C331.3 546.7 331.9 549.0 332.5 551.3 C333.1 553.6 333.7 555.9 334.2 558.2 C334.7 560.4 335.3 562.7 335.7 565.0 C336.2 567.3 336.6 569.6 337.0 571.9 C337.3 574.2 337.7 576.4 337.9 578.7 C338.1 581.0 338.4 583.3 338.3 585.6 C338.2 588.0 337.5 591.5 337.3 592.7" fill="none" stroke="#14a090" stroke-width="4.0" stroke-linecap="round"/>
<path d="M344.8 436.0 C344.2 437.0 342.5 440.1 341.4 442.2 C340.3 444.2 339.0 446.4 337.9 448.5 C336.8 450.6 335.8 452.8 334.8 455.0 C333.9 457.2 333.0 459.4 332.1 461.6 C331.3 463.8 330.5 466.1 329.8 468.3 C329.1 470.6 328.5 472.8 327.9 475.1 C327.3 477.4 326.8 479.7 326.4 482.0 C326.0 484.3 325.6 486.6 325.3 488.9 C325.0 491.2 324.8 493.6 324.6 495.9 C324.4 498.2 324.3 500.5 324.3 502.9 C324.3 505.2 324.3 507.5 324.5 509.9 C324.6 512.2 324.8 514.5 325.0 516.8 C325.3 519.2 325.6 521.5 326.0 523.8 C326.4 526.1 326.9 528.4 327.4 530.7 C327.9 533.0 328.4 535.3 329.0 537.6 C329.5 539.9 330.1 542.2 330.7 544.4 C331.3 546.7 331.9 549.0 332.5 551.3 C333.1 553.6 333.7 555.9 334.2 558.2 C334.7 560.4 335.3 562.7 335.7 565.0 C336.2 567.3 336.6 569.6 337.0 571.9 C337.3 574.2 337.7 576.4 337.9 578.7 C338.1 581.0 338.4 583.3 338.3 585.6 C338.2 588.0 337.5 591.5 337.3 592.7" fill="none" stroke="#3fe8d8" stroke-width="2.2" stroke-linecap="round"/>
<path d="M354.0 436.0 C319.8 469.7 329.8 547.9 328.5 592.7" fill="none" stroke="#682a0a" stroke-width="4.0" stroke-linecap="round"/>
<path d="M354.0 436.0 C319.8 469.7 329.8 547.9 328.5 592.7" fill="none" stroke="#9a441a" stroke-width="2.2" stroke-linecap="round"/>
<path d="M141.7 527.0 C201.5 526.1 262.1 560.9 310.7 592.7" fill="none" stroke="#b0a818" stroke-width="4.0" stroke-linecap="round"/>
<path d="M141.7 527.0 C201.5 526.1 262.1 560.9 310.7 592.7" fill="none" stroke="#f7f03a" stroke-width="2.2" stroke-linecap="round"/>
<path d="M141.7 518.3 C231.2 511.9 253.3 552.1 319.6 592.7" fill="none" stroke="#0f8f12" stroke-width="4.0" stroke-linecap="round"/>
<path d="M141.7 518.3 C231.2 511.9 253.3 552.1 319.6 592.7" fill="none" stroke="#2fd32f" stroke-width="2.2" stroke-linecap="round"/>
<path d="M141.7 500.0 C143.0 499.9 146.9 499.5 149.5 499.7 C152.0 499.8 154.5 500.1 156.9 500.7 C159.3 501.3 161.6 502.1 163.9 503.1 C166.1 504.1 168.3 505.4 170.4 506.8 C172.5 508.1 174.5 509.7 176.4 511.3 C178.3 513.0 180.2 514.8 182.0 516.7 C183.7 518.5 185.4 520.5 187.0 522.5 C188.6 524.5 190.2 526.5 191.6 528.6 C193.1 530.6 194.4 532.7 195.8 534.9 C197.1 537.0 198.3 539.2 199.6 541.3 C200.8 543.5 201.9 545.7 203.1 548.0 C204.2 550.2 205.3 552.4 206.3 554.7 C207.4 557.0 208.4 559.2 209.5 561.5 C210.5 563.8 211.5 566.1 212.5 568.4 C213.5 570.7 214.5 573.1 215.5 575.4 C216.4 577.7 217.4 580.0 218.4 582.4 C219.3 584.7 220.2 587.1 221.2 589.4 C222.1 591.8 223.0 594.2 223.9 596.5 C224.8 598.9 225.7 601.3 226.6 603.7 C227.5 606.1 228.4 608.5 229.2 610.8 C230.1 613.2 230.9 615.6 231.8 618.0 C232.7 620.4 233.5 622.8 234.3 625.2 C235.2 627.6 236.0 630.0 236.8 632.4 C237.6 634.8 238.5 637.2 239.3 639.6 C240.1 642.0 240.9 644.4 241.7 646.8 C242.5 649.2 243.3 651.6 244.1 654.0 C244.9 656.4 245.7 658.8 246.5 661.2 C247.3 663.6 248.1 666.0 248.9 668.4 C249.7 670.8 250.4 673.1 251.2 675.5 C252.0 677.9 252.8 680.2 253.6 682.6 C254.4 684.9 255.2 687.3 256.0 689.6 C256.7 692.0 257.5 694.3 258.3 696.7 C259.1 699.0 259.9 701.4 260.7 703.8 C261.5 706.1 262.3 708.5 263.1 710.9 C263.9 713.2 264.7 715.6 265.5 718.0 C266.3 720.4 267.1 722.9 267.9 725.3 C268.7 727.7 269.5 730.2 270.3 732.7 C271.1 735.2 271.9 737.7 272.7 740.2 C273.6 742.7 274.4 745.3 275.3 747.7 C276.2 750.2 277.1 752.6 278.2 755.0 C279.2 757.3 280.3 759.6 281.6 761.8 C282.8 763.9 284.2 766.0 285.7 767.9 C287.2 769.7 288.8 771.5 290.6 773.0 C292.4 774.5 294.4 775.9 296.6 776.9 C298.7 778.0 301.1 778.9 303.5 779.2 C305.8 779.5 308.2 779.5 310.5 778.7 C312.7 778.0 315.0 776.5 316.9 774.7 C318.9 772.9 320.7 770.2 322.2 768.0 C323.6 765.8 324.9 762.5 325.5 761.4" fill="none" stroke="#820c0c" stroke-width="4.3" stroke-linecap="round"/>
<path d="M141.7 500.0 C143.0 499.9 146.9 499.5 149.5 499.7 C152.0 499.8 154.5 500.1 156.9 500.7 C159.3 501.3 161.6 502.1 163.9 503.1 C166.1 504.1 168.3 505.4 170.4 506.8 C172.5 508.1 174.5 509.7 176.4 511.3 C178.3 513.0 180.2 514.8 182.0 516.7 C183.7 518.5 185.4 520.5 187.0 522.5 C188.6 524.5 190.2 526.5 191.6 528.6 C193.1 530.6 194.4 532.7 195.8 534.9 C197.1 537.0 198.3 539.2 199.6 541.3 C200.8 543.5 201.9 545.7 203.1 548.0 C204.2 550.2 205.3 552.4 206.3 554.7 C207.4 557.0 208.4 559.2 209.5 561.5 C210.5 563.8 211.5 566.1 212.5 568.4 C213.5 570.7 214.5 573.1 215.5 575.4 C216.4 577.7 217.4 580.0 218.4 582.4 C219.3 584.7 220.2 587.1 221.2 589.4 C222.1 591.8 223.0 594.2 223.9 596.5 C224.8 598.9 225.7 601.3 226.6 603.7 C227.5 606.1 228.4 608.5 229.2 610.8 C230.1 613.2 230.9 615.6 231.8 618.0 C232.7 620.4 233.5 622.8 234.3 625.2 C235.2 627.6 236.0 630.0 236.8 632.4 C237.6 634.8 238.5 637.2 239.3 639.6 C240.1 642.0 240.9 644.4 241.7 646.8 C242.5 649.2 243.3 651.6 244.1 654.0 C244.9 656.4 245.7 658.8 246.5 661.2 C247.3 663.6 248.1 666.0 248.9 668.4 C249.7 670.8 250.4 673.1 251.2 675.5 C252.0 677.9 252.8 680.2 253.6 682.6 C254.4 684.9 255.2 687.3 256.0 689.6 C256.7 692.0 257.5 694.3 258.3 696.7 C259.1 699.0 259.9 701.4 260.7 703.8 C261.5 706.1 262.3 708.5 263.1 710.9 C263.9 713.2 264.7 715.6 265.5 718.0 C266.3 720.4 267.1 722.9 267.9 725.3 C268.7 727.7 269.5 730.2 270.3 732.7 C271.1 735.2 271.9 737.7 272.7 740.2 C273.6 742.7 274.4 745.3 275.3 747.7 C276.2 750.2 277.1 752.6 278.2 755.0 C279.2 757.3 280.3 759.6 281.6 761.8 C282.8 763.9 284.2 766.0 285.7 767.9 C287.2 769.7 288.8 771.5 290.6 773.0 C292.4 774.5 294.4 775.9 296.6 776.9 C298.7 778.0 301.1 778.9 303.5 779.2 C305.8 779.5 308.2 779.5 310.5 778.7 C312.7 778.0 315.0 776.5 316.9 774.7 C318.9 772.9 320.7 770.2 322.2 768.0 C323.6 765.8 324.9 762.5 325.5 761.4" fill="none" stroke="#c81919" stroke-width="2.4000000000000004" stroke-linecap="round"/>
<path d="M141.7 509.1 C143.0 509.2 147.1 509.0 149.6 509.4 C152.1 509.9 154.5 510.7 156.7 511.7 C159.0 512.7 161.1 514.0 163.1 515.5 C165.1 516.9 167.0 518.6 168.8 520.4 C170.6 522.1 172.3 524.1 174.0 526.0 C175.7 528.0 177.3 530.1 178.8 532.2 C180.4 534.2 181.9 536.3 183.4 538.4 C185.0 540.5 186.4 542.7 187.9 544.8 C189.3 546.9 190.7 549.1 192.1 551.3 C193.4 553.5 194.8 555.6 196.1 557.9 C197.4 560.1 198.7 562.3 200.0 564.5 C201.2 566.7 202.4 569.0 203.7 571.2 C204.9 573.5 206.1 575.8 207.2 578.0 C208.4 580.3 209.5 582.6 210.7 584.9 C211.8 587.2 212.9 589.5 214.0 591.8 C215.1 594.1 216.2 596.5 217.3 598.8 C218.3 601.1 219.4 603.5 220.4 605.8 C221.5 608.1 222.5 610.5 223.5 612.8 C224.6 615.2 225.6 617.5 226.6 619.9 C227.6 622.2 228.6 624.6 229.6 627.0 C230.6 629.3 231.6 631.7 232.6 634.0 C233.6 636.4 234.6 638.8 235.5 641.1 C236.5 643.5 237.5 645.8 238.5 648.2 C239.5 650.6 240.5 652.9 241.5 655.3 C242.5 657.6 243.5 660.0 244.6 662.3 C245.6 664.6 246.6 667.0 247.7 669.3 C248.7 671.6 249.7 674.0 250.8 676.3 C251.9 678.6 252.9 680.9 254.0 683.2 C255.1 685.5 256.2 687.8 257.3 690.1 C258.4 692.4 259.6 694.6 260.7 696.9 C261.8 699.2 262.9 701.5 264.1 703.8 C265.2 706.1 266.3 708.4 267.5 710.7 C268.6 713.0 269.7 715.3 270.8 717.6 C272.0 719.9 273.1 722.2 274.2 724.5 C275.3 726.9 276.4 729.2 277.4 731.6 C278.5 733.9 279.6 736.3 280.6 738.7 C281.7 741.1 282.7 743.5 283.8 745.9 C284.9 748.3 285.9 750.7 287.1 753.0 C288.3 755.3 289.4 757.6 290.7 759.8 C292.0 762.0 293.4 764.2 294.9 766.3 C296.3 768.3 297.9 770.3 299.6 772.2 C301.4 774.0 303.2 775.8 305.2 777.4 C307.2 779.0 309.5 780.5 311.7 781.7 C313.9 782.8 316.3 783.9 318.6 784.4 C320.8 784.9 323.2 785.2 325.4 784.8 C327.6 784.4 329.7 783.6 331.7 782.2 C333.6 780.8 335.5 778.7 337.0 776.4 C338.5 774.2 339.9 771.3 341.0 768.7 C342.0 766.2 343.0 762.6 343.4 761.4" fill="none" stroke="#0a0a0a" stroke-width="4.0" stroke-linecap="round"/>
<path d="M141.7 509.1 C143.0 509.2 147.1 509.0 149.6 509.4 C152.1 509.9 154.5 510.7 156.7 511.7 C159.0 512.7 161.1 514.0 163.1 515.5 C165.1 516.9 167.0 518.6 168.8 520.4 C170.6 522.1 172.3 524.1 174.0 526.0 C175.7 528.0 177.3 530.1 178.8 532.2 C180.4 534.2 181.9 536.3 183.4 538.4 C185.0 540.5 186.4 542.7 187.9 544.8 C189.3 546.9 190.7 549.1 192.1 551.3 C193.4 553.5 194.8 555.6 196.1 557.9 C197.4 560.1 198.7 562.3 200.0 564.5 C201.2 566.7 202.4 569.0 203.7 571.2 C204.9 573.5 206.1 575.8 207.2 578.0 C208.4 580.3 209.5 582.6 210.7 584.9 C211.8 587.2 212.9 589.5 214.0 591.8 C215.1 594.1 216.2 596.5 217.3 598.8 C218.3 601.1 219.4 603.5 220.4 605.8 C221.5 608.1 222.5 610.5 223.5 612.8 C224.6 615.2 225.6 617.5 226.6 619.9 C227.6 622.2 228.6 624.6 229.6 627.0 C230.6 629.3 231.6 631.7 232.6 634.0 C233.6 636.4 234.6 638.8 235.5 641.1 C236.5 643.5 237.5 645.8 238.5 648.2 C239.5 650.6 240.5 652.9 241.5 655.3 C242.5 657.6 243.5 660.0 244.6 662.3 C245.6 664.6 246.6 667.0 247.7 669.3 C248.7 671.6 249.7 674.0 250.8 676.3 C251.9 678.6 252.9 680.9 254.0 683.2 C255.1 685.5 256.2 687.8 257.3 690.1 C258.4 692.4 259.6 694.6 260.7 696.9 C261.8 699.2 262.9 701.5 264.1 703.8 C265.2 706.1 266.3 708.4 267.5 710.7 C268.6 713.0 269.7 715.3 270.8 717.6 C272.0 719.9 273.1 722.2 274.2 724.5 C275.3 726.9 276.4 729.2 277.4 731.6 C278.5 733.9 279.6 736.3 280.6 738.7 C281.7 741.1 282.7 743.5 283.8 745.9 C284.9 748.3 285.9 750.7 287.1 753.0 C288.3 755.3 289.4 757.6 290.7 759.8 C292.0 762.0 293.4 764.2 294.9 766.3 C296.3 768.3 297.9 770.3 299.6 772.2 C301.4 774.0 303.2 775.8 305.2 777.4 C307.2 779.0 309.5 780.5 311.7 781.7 C313.9 782.8 316.3 783.9 318.6 784.4 C320.8 784.9 323.2 785.2 325.4 784.8 C327.6 784.4 329.7 783.6 331.7 782.2 C333.6 780.8 335.5 778.7 337.0 776.4 C338.5 774.2 339.9 771.3 341.0 768.7 C342.0 766.2 343.0 762.6 343.4 761.4" fill="none" stroke="#3a3a3a" stroke-width="1.8" stroke-linecap="round"/>
<path d="M362.8 436.0 C364.1 436.4 367.9 437.5 370.3 438.5 C372.8 439.5 375.2 440.6 377.5 441.8 C379.9 443.1 382.2 444.4 384.4 445.9 C386.7 447.3 388.8 448.9 390.9 450.5 C393.0 452.2 395.0 453.9 397.0 455.8 C398.9 457.6 400.8 459.6 402.5 461.6 C404.3 463.6 405.9 465.7 407.5 467.9 C409.0 470.0 410.4 472.3 411.8 474.6 C413.1 476.9 414.3 479.2 415.4 481.7 C416.4 484.1 417.4 486.6 418.2 489.1 C419.1 491.6 419.8 494.1 420.4 496.7 C421.0 499.3 421.5 501.9 421.9 504.6 C422.3 507.2 422.6 509.9 422.8 512.6 C423.0 515.2 423.1 517.9 423.2 520.6 C423.2 523.3 423.1 525.9 423.0 528.6 C422.8 531.3 422.6 533.9 422.3 536.6 C422.0 539.2 421.6 541.8 421.1 544.4 C420.7 547.0 420.1 549.6 419.5 552.1 C419.0 554.7 418.3 557.2 417.6 559.8 C416.9 562.3 416.1 564.8 415.3 567.3 C414.5 569.8 413.6 572.2 412.7 574.7 C411.7 577.2 410.8 579.6 409.8 582.1 C408.8 584.5 407.7 586.9 406.6 589.3 C405.5 591.7 404.4 594.1 403.3 596.5 C402.1 598.9 400.9 601.3 399.7 603.7 C398.5 606.1 397.3 608.4 396.1 610.8 C394.8 613.2 393.6 615.5 392.3 617.9 C391.0 620.2 389.7 622.6 388.4 624.9 C387.2 627.2 385.9 629.6 384.6 631.9 C383.3 634.3 382.0 636.6 380.7 638.9 C379.4 641.2 378.1 643.6 376.8 645.9 C375.4 648.2 374.1 650.5 372.8 652.8 C371.5 655.1 370.2 657.4 368.9 659.7 C367.5 662.0 366.2 664.3 364.8 666.6 C363.5 668.9 362.2 671.2 360.8 673.4 C359.4 675.7 358.1 677.9 356.7 680.2 C355.3 682.4 353.9 684.7 352.5 686.9 C351.1 689.1 349.7 691.3 348.2 693.5 C346.8 695.7 345.4 697.9 343.9 700.1 C342.4 702.3 341.0 704.4 339.5 706.6 C338.0 708.7 336.5 710.9 334.9 713.0 C333.4 715.1 331.8 717.2 330.3 719.3 C328.7 721.4 327.2 723.5 325.6 725.7 C324.1 727.9 322.6 730.2 321.2 732.6 C319.8 735.1 318.3 737.8 317.2 740.4 C316.1 743.1 315.0 746.0 314.6 748.5 C314.1 751.1 313.8 753.6 314.3 755.6 C314.8 757.7 315.8 759.6 317.7 760.6 C319.5 761.5 324.2 761.3 325.5 761.4" fill="none" stroke="#820c0c" stroke-width="4.2" stroke-linecap="round"/>
<path d="M362.8 436.0 C364.1 436.4 367.9 437.5 370.3 438.5 C372.8 439.5 375.2 440.6 377.5 441.8 C379.9 443.1 382.2 444.4 384.4 445.9 C386.7 447.3 388.8 448.9 390.9 450.5 C393.0 452.2 395.0 453.9 397.0 455.8 C398.9 457.6 400.8 459.6 402.5 461.6 C404.3 463.6 405.9 465.7 407.5 467.9 C409.0 470.0 410.4 472.3 411.8 474.6 C413.1 476.9 414.3 479.2 415.4 481.7 C416.4 484.1 417.4 486.6 418.2 489.1 C419.1 491.6 419.8 494.1 420.4 496.7 C421.0 499.3 421.5 501.9 421.9 504.6 C422.3 507.2 422.6 509.9 422.8 512.6 C423.0 515.2 423.1 517.9 423.2 520.6 C423.2 523.3 423.1 525.9 423.0 528.6 C422.8 531.3 422.6 533.9 422.3 536.6 C422.0 539.2 421.6 541.8 421.1 544.4 C420.7 547.0 420.1 549.6 419.5 552.1 C419.0 554.7 418.3 557.2 417.6 559.8 C416.9 562.3 416.1 564.8 415.3 567.3 C414.5 569.8 413.6 572.2 412.7 574.7 C411.7 577.2 410.8 579.6 409.8 582.1 C408.8 584.5 407.7 586.9 406.6 589.3 C405.5 591.7 404.4 594.1 403.3 596.5 C402.1 598.9 400.9 601.3 399.7 603.7 C398.5 606.1 397.3 608.4 396.1 610.8 C394.8 613.2 393.6 615.5 392.3 617.9 C391.0 620.2 389.7 622.6 388.4 624.9 C387.2 627.2 385.9 629.6 384.6 631.9 C383.3 634.3 382.0 636.6 380.7 638.9 C379.4 641.2 378.1 643.6 376.8 645.9 C375.4 648.2 374.1 650.5 372.8 652.8 C371.5 655.1 370.2 657.4 368.9 659.7 C367.5 662.0 366.2 664.3 364.8 666.6 C363.5 668.9 362.2 671.2 360.8 673.4 C359.4 675.7 358.1 677.9 356.7 680.2 C355.3 682.4 353.9 684.7 352.5 686.9 C351.1 689.1 349.7 691.3 348.2 693.5 C346.8 695.7 345.4 697.9 343.9 700.1 C342.4 702.3 341.0 704.4 339.5 706.6 C338.0 708.7 336.5 710.9 334.9 713.0 C333.4 715.1 331.8 717.2 330.3 719.3 C328.7 721.4 327.2 723.5 325.6 725.7 C324.1 727.9 322.6 730.2 321.2 732.6 C319.8 735.1 318.3 737.8 317.2 740.4 C316.1 743.1 315.0 746.0 314.6 748.5 C314.1 751.1 313.8 753.6 314.3 755.6 C314.8 757.7 315.8 759.6 317.7 760.6 C319.5 761.5 324.2 761.3 325.5 761.4" fill="none" stroke="#c81919" stroke-width="2.3000000000000003" stroke-linecap="round"/>
<circle cx="291.2" cy="436.2" r="1.5" fill="#a6f0a0" fill-opacity="0.55"/>
<circle cx="300.2" cy="436.2" r="1.5" fill="#a6f0a0" fill-opacity="0.55"/>
<circle cx="309.2" cy="436.2" r="1.5" fill="#a6f0a0" fill-opacity="0.55"/>
<circle cx="318.1" cy="436.2" r="1.5" fill="#a6f0a0" fill-opacity="0.55"/>
<circle cx="327.1" cy="436.2" r="1.5" fill="#a6f0a0" fill-opacity="0.55"/>
<circle cx="336.0" cy="436.2" r="1.5" fill="#a6f0a0" fill-opacity="0.55"/>
<circle cx="344.9" cy="436.2" r="1.5" fill="#a6f0a0" fill-opacity="0.55"/>
<circle cx="353.9" cy="436.2" r="1.5" fill="#a6f0a0" fill-opacity="0.55"/>
<circle cx="362.9" cy="436.2" r="1.5" fill="#a6f0a0" fill-opacity="0.55"/>
<circle cx="396.6" cy="592.9" r="1.5" fill="#a6f0a0" fill-opacity="0.55"/>
<circle cx="387.8" cy="592.9" r="1.5" fill="#a6f0a0" fill-opacity="0.55"/>
<circle cx="378.9" cy="592.9" r="1.5" fill="#a6f0a0" fill-opacity="0.55"/>
<circle cx="370.0" cy="592.9" r="1.5" fill="#a6f0a0" fill-opacity="0.55"/>
<circle cx="361.2" cy="592.9" r="1.5" fill="#a6f0a0" fill-opacity="0.55"/>
<circle cx="352.3" cy="592.9" r="1.5" fill="#a6f0a0" fill-opacity="0.55"/>
<circle cx="337.3" cy="592.9" r="1.5" fill="#a6f0a0" fill-opacity="0.55"/>
<circle cx="328.5" cy="592.9" r="1.5" fill="#a6f0a0" fill-opacity="0.55"/>
<circle cx="319.6" cy="592.9" r="1.5" fill="#a6f0a0" fill-opacity="0.55"/>
<circle cx="310.7" cy="592.9" r="1.5" fill="#a6f0a0" fill-opacity="0.55"/>
</g>
</svg></body></html>
